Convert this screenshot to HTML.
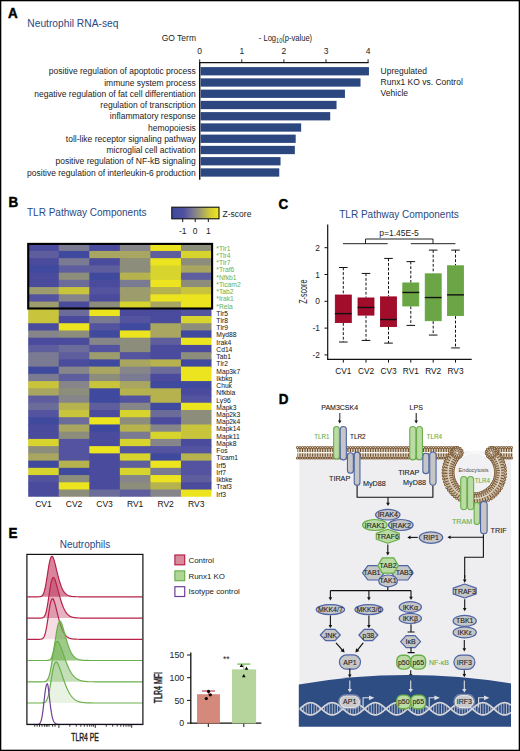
<!DOCTYPE html>
<html><head><meta charset="utf-8"><title>Figure</title><style>html,body{margin:0;padding:0;background:#fff;}svg{display:block;font-family:"Liberation Sans",sans-serif;}</style></head><body>
<svg width="520" height="751" viewBox="0 0 520 751">
<rect width="520" height="751" fill="#fff"/>
<rect x="0.65" y="0.65" width="518.7" height="749.7" fill="none" stroke="#000" stroke-width="1.3"/>
<text x="0" y="0" font-size="14.6" fill="#000" font-weight="bold" stroke="#000" stroke-width="0.45" transform="translate(8.0 18.2) scale(0.92 1)">A</text>
<text x="0" y="0" font-size="14.6" fill="#000" font-weight="bold" stroke="#000" stroke-width="0.45" transform="translate(8.4 207.3) scale(0.92 1)">B</text>
<text x="0" y="0" font-size="14.6" fill="#000" font-weight="bold" stroke="#000" stroke-width="0.45" transform="translate(278.6 208.6) scale(0.92 1)">C</text>
<text x="0" y="0" font-size="14.6" fill="#000" font-weight="bold" stroke="#000" stroke-width="0.45" transform="translate(278.8 404.3) scale(0.92 1)">D</text>
<text x="0" y="0" font-size="14.6" fill="#000" font-weight="bold" stroke="#000" stroke-width="0.45" transform="translate(8.4 537.6) scale(0.92 1)">E</text>
<text x="27.3" y="27.1" font-size="10.25" fill="#2a4884" text-anchor="start" font-weight="normal" >Neutrophil RNA-seq</text>
<text x="196" y="40.6" font-size="8.5" fill="#222" text-anchor="end" font-weight="normal" >GO Term</text>
<text x="0" y="0" font-size="9.6" fill="#222" transform="translate(258.8 40.8) scale(0.79 1)">- Log<tspan font-size="7" dy="2.4">10</tspan><tspan dy="-2.4">(p-value)</tspan></text>
<text x="199.7" y="54.2" font-size="8.5" fill="#222" text-anchor="middle" font-weight="normal" >0</text>
<line x1="199.70" y1="59.3" x2="199.70" y2="62.6" stroke="#222" stroke-width="1"/>
<text x="241.8" y="54.2" font-size="8.5" fill="#222" text-anchor="middle" font-weight="normal" >1</text>
<line x1="241.80" y1="59.3" x2="241.80" y2="62.6" stroke="#222" stroke-width="1"/>
<text x="283.9" y="54.2" font-size="8.5" fill="#222" text-anchor="middle" font-weight="normal" >2</text>
<line x1="283.90" y1="59.3" x2="283.90" y2="62.6" stroke="#222" stroke-width="1"/>
<text x="326.0" y="54.2" font-size="8.5" fill="#222" text-anchor="middle" font-weight="normal" >3</text>
<line x1="326.00" y1="59.3" x2="326.00" y2="62.6" stroke="#222" stroke-width="1"/>
<text x="368.1" y="54.2" font-size="8.5" fill="#222" text-anchor="middle" font-weight="normal" >4</text>
<line x1="368.10" y1="59.3" x2="368.10" y2="62.6" stroke="#222" stroke-width="1"/>
<line x1="199.2" y1="62.6" x2="368.6" y2="62.6" stroke="#111" stroke-width="1.2"/>
<line x1="199.7" y1="62" x2="199.7" y2="179.7" stroke="#111" stroke-width="1.4"/>
<rect x="200.6" y="67.10" width="168.34" height="8.3" fill="#2c4780"/>
<text x="195.8" y="74.4" font-size="8.5" fill="#222" text-anchor="end" font-weight="normal" >positive regulation of apoptotic process</text>
<rect x="200.6" y="78.35" width="159.92" height="8.3" fill="#2c4780"/>
<text x="195.8" y="85.65" font-size="8.5" fill="#222" text-anchor="end" font-weight="normal" >immune system process</text>
<rect x="200.6" y="89.60" width="144.34" height="8.3" fill="#2c4780"/>
<text x="195.8" y="96.9" font-size="8.5" fill="#222" text-anchor="end" font-weight="normal" >negative regulation of fat cell differentiation</text>
<rect x="200.6" y="100.85" width="135.93" height="8.3" fill="#2c4780"/>
<text x="195.8" y="108.15" font-size="8.5" fill="#222" text-anchor="end" font-weight="normal" >regulation of transcription</text>
<rect x="200.6" y="112.10" width="129.61" height="8.3" fill="#2c4780"/>
<text x="195.8" y="119.4" font-size="8.5" fill="#222" text-anchor="end" font-weight="normal" >inflammatory response</text>
<rect x="200.6" y="123.35" width="100.56" height="8.3" fill="#2c4780"/>
<text x="195.8" y="130.65" font-size="8.5" fill="#222" text-anchor="end" font-weight="normal" >hemopoiesis</text>
<rect x="200.6" y="134.60" width="95.09" height="8.3" fill="#2c4780"/>
<text x="195.8" y="141.9" font-size="8.5" fill="#222" text-anchor="end" font-weight="normal" >toll-like receptor signaling pathway</text>
<rect x="200.6" y="145.85" width="94.25" height="8.3" fill="#2c4780"/>
<text x="195.8" y="153.15" font-size="8.5" fill="#222" text-anchor="end" font-weight="normal" >microglial cell activation</text>
<rect x="200.6" y="157.10" width="79.93" height="8.3" fill="#2c4780"/>
<text x="195.8" y="164.4" font-size="8.5" fill="#222" text-anchor="end" font-weight="normal" >positive regulation of NF-kB signaling</text>
<rect x="200.6" y="168.35" width="78.67" height="8.3" fill="#2c4780"/>
<text x="195.8" y="175.65" font-size="8.5" fill="#222" text-anchor="end" font-weight="normal" >positive regulation of interleukin-6 production</text>
<text x="380.6" y="74.1" font-size="8.5" fill="#222" text-anchor="start" font-weight="normal" >Upregulated</text>
<text x="380.6" y="85.0" font-size="8.5" fill="#222" text-anchor="start" font-weight="normal" >Runx1 KO vs. Control</text>
<text x="380.6" y="95.9" font-size="8.5" fill="#222" text-anchor="start" font-weight="normal" >Vehicle</text>
<text x="27.0" y="215.5" font-size="10" fill="#2a4884" text-anchor="start" font-weight="normal" >TLR Pathway Components</text>
<defs><linearGradient id="cb" x1="0" x2="1" y1="0" y2="0"><stop offset="0" stop-color="#3c4a9e"/><stop offset="0.25" stop-color="#4f509f"/><stop offset="0.45" stop-color="#7a7a94"/><stop offset="0.55" stop-color="#8f8f7c"/><stop offset="0.8" stop-color="#cfc93c"/><stop offset="1" stop-color="#f4e81a"/></linearGradient></defs>
<rect x="171.8" y="207.2" width="47.2" height="11.6" fill="url(#cb)" stroke="#111" stroke-width="1.1"/>
<line x1="182.7" y1="219" x2="182.7" y2="222" stroke="#111" stroke-width="1"/>
<text x="182.7" y="233.6" font-size="8.5" fill="#222" text-anchor="middle" font-weight="normal" >-1</text>
<line x1="195.2" y1="219" x2="195.2" y2="222" stroke="#111" stroke-width="1"/>
<text x="195.2" y="233.6" font-size="8.5" fill="#222" text-anchor="middle" font-weight="normal" >0</text>
<line x1="208.3" y1="219" x2="208.3" y2="222" stroke="#111" stroke-width="1"/>
<text x="208.3" y="233.6" font-size="8.5" fill="#222" text-anchor="middle" font-weight="normal" >1</text>
<text x="222.6" y="216.6" font-size="8.5" fill="#222" text-anchor="start" font-weight="normal" >Z-score</text>
<rect x="28.20" y="243.70" width="31.55" height="8.23" fill="#4a4b9d"/>
<rect x="58.75" y="243.70" width="31.55" height="8.23" fill="#7a7a92"/>
<rect x="89.30" y="243.70" width="31.55" height="8.23" fill="#4a4b9d"/>
<rect x="119.85" y="243.70" width="31.55" height="8.23" fill="#85858a"/>
<rect x="150.40" y="243.70" width="31.55" height="8.23" fill="#ece41e"/>
<rect x="180.95" y="243.70" width="30.55" height="8.23" fill="#8d8d7b"/>
<text x="216.3" y="250.70" font-size="7" fill="#6ab04c" transform="translate(216.3 0) scale(0.96 1) translate(-216.3 0)">*Tlr1</text>
<rect x="28.20" y="250.93" width="31.55" height="8.23" fill="#5e5e9f"/>
<rect x="58.75" y="250.93" width="31.55" height="8.23" fill="#3f4a9e"/>
<rect x="89.30" y="250.93" width="31.55" height="8.23" fill="#a8a660"/>
<rect x="119.85" y="250.93" width="31.55" height="8.23" fill="#a8a660"/>
<rect x="150.40" y="250.93" width="31.55" height="8.23" fill="#5e5e9f"/>
<rect x="180.95" y="250.93" width="30.55" height="8.23" fill="#d8d42e"/>
<text x="216.3" y="257.93" font-size="7" fill="#6ab04c" transform="translate(216.3 0) scale(0.96 1) translate(-216.3 0)">*Tlr4</text>
<rect x="28.20" y="258.16" width="31.55" height="8.23" fill="#4a4b9d"/>
<rect x="58.75" y="258.16" width="31.55" height="8.23" fill="#7a7a92"/>
<rect x="89.30" y="258.16" width="31.55" height="8.23" fill="#4a4b9d"/>
<rect x="119.85" y="258.16" width="31.55" height="8.23" fill="#8d8d7b"/>
<rect x="150.40" y="258.16" width="31.55" height="8.23" fill="#ece41e"/>
<rect x="180.95" y="258.16" width="30.55" height="8.23" fill="#8d8d7b"/>
<text x="216.3" y="265.16" font-size="7" fill="#6ab04c" transform="translate(216.3 0) scale(0.96 1) translate(-216.3 0)">*Tlr7</text>
<rect x="28.20" y="265.39" width="31.55" height="8.23" fill="#3f4a9e"/>
<rect x="58.75" y="265.39" width="31.55" height="8.23" fill="#5e5e9f"/>
<rect x="89.30" y="265.39" width="31.55" height="8.23" fill="#5e5e9f"/>
<rect x="119.85" y="265.39" width="31.55" height="8.23" fill="#8d8d7b"/>
<rect x="150.40" y="265.39" width="31.55" height="8.23" fill="#d8d42e"/>
<rect x="180.95" y="265.39" width="30.55" height="8.23" fill="#a8a660"/>
<text x="216.3" y="272.39" font-size="7" fill="#6ab04c" transform="translate(216.3 0) scale(0.96 1) translate(-216.3 0)">*Traf6</text>
<rect x="28.20" y="272.62" width="31.55" height="8.23" fill="#4a4b9d"/>
<rect x="58.75" y="272.62" width="31.55" height="8.23" fill="#8d8d7b"/>
<rect x="89.30" y="272.62" width="31.55" height="8.23" fill="#3f4a9e"/>
<rect x="119.85" y="272.62" width="31.55" height="8.23" fill="#b6b24e"/>
<rect x="150.40" y="272.62" width="31.55" height="8.23" fill="#d8d42e"/>
<rect x="180.95" y="272.62" width="30.55" height="8.23" fill="#5e5e9f"/>
<text x="216.3" y="279.62" font-size="7" fill="#6ab04c" transform="translate(216.3 0) scale(0.96 1) translate(-216.3 0)">*Nfkb1</text>
<rect x="28.20" y="279.85" width="31.55" height="8.23" fill="#4a4b9d"/>
<rect x="58.75" y="279.85" width="31.55" height="8.23" fill="#6c6c9b"/>
<rect x="89.30" y="279.85" width="31.55" height="8.23" fill="#4a4b9d"/>
<rect x="119.85" y="279.85" width="31.55" height="8.23" fill="#7a7a92"/>
<rect x="150.40" y="279.85" width="31.55" height="8.23" fill="#ece41e"/>
<rect x="180.95" y="279.85" width="30.55" height="8.23" fill="#8d8d7b"/>
<text x="216.3" y="286.85" font-size="7" fill="#6ab04c" transform="translate(216.3 0) scale(0.96 1) translate(-216.3 0)">*Ticam2</text>
<rect x="28.20" y="287.08" width="31.55" height="8.23" fill="#9c9c6c"/>
<rect x="58.75" y="287.08" width="31.55" height="8.23" fill="#c8c43c"/>
<rect x="89.30" y="287.08" width="31.55" height="8.23" fill="#5353a0"/>
<rect x="119.85" y="287.08" width="31.55" height="8.23" fill="#9c9c6c"/>
<rect x="150.40" y="287.08" width="31.55" height="8.23" fill="#b6b24e"/>
<rect x="180.95" y="287.08" width="30.55" height="8.23" fill="#c8c43c"/>
<text x="216.3" y="294.08" font-size="7" fill="#6ab04c" transform="translate(216.3 0) scale(0.96 1) translate(-216.3 0)">*Tab2</text>
<rect x="28.20" y="294.31" width="31.55" height="8.23" fill="#5353a0"/>
<rect x="58.75" y="294.31" width="31.55" height="8.23" fill="#85858a"/>
<rect x="89.30" y="294.31" width="31.55" height="8.23" fill="#4a4b9d"/>
<rect x="119.85" y="294.31" width="31.55" height="8.23" fill="#9c9c6c"/>
<rect x="150.40" y="294.31" width="31.55" height="8.23" fill="#ece41e"/>
<rect x="180.95" y="294.31" width="30.55" height="8.23" fill="#ece41e"/>
<text x="216.3" y="301.31" font-size="7" fill="#6ab04c" transform="translate(216.3 0) scale(0.96 1) translate(-216.3 0)">*Irak1</text>
<rect x="28.20" y="301.54" width="31.55" height="8.23" fill="#9c9c6c"/>
<rect x="58.75" y="301.54" width="31.55" height="8.23" fill="#4a4b9d"/>
<rect x="89.30" y="301.54" width="31.55" height="8.23" fill="#8d8d7b"/>
<rect x="119.85" y="301.54" width="31.55" height="8.23" fill="#d8d42e"/>
<rect x="150.40" y="301.54" width="31.55" height="8.23" fill="#a8a660"/>
<rect x="180.95" y="301.54" width="30.55" height="8.23" fill="#ece41e"/>
<text x="216.3" y="308.54" font-size="7" fill="#6ab04c" transform="translate(216.3 0) scale(0.96 1) translate(-216.3 0)">*Rela</text>
<rect x="28.20" y="308.77" width="31.55" height="8.23" fill="#c8c43c"/>
<rect x="58.75" y="308.77" width="31.55" height="8.23" fill="#6c6c9b"/>
<rect x="89.30" y="308.77" width="31.55" height="8.23" fill="#ece41e"/>
<rect x="119.85" y="308.77" width="31.55" height="8.23" fill="#4a4b9d"/>
<rect x="150.40" y="308.77" width="31.55" height="8.23" fill="#4a4b9d"/>
<rect x="180.95" y="308.77" width="30.55" height="8.23" fill="#5353a0"/>
<text x="216.3" y="315.77" font-size="7" fill="#111" transform="translate(216.3 0) scale(0.96 1) translate(-216.3 0)">Tlr5</text>
<rect x="28.20" y="316.00" width="31.55" height="8.23" fill="#c8c43c"/>
<rect x="58.75" y="316.00" width="31.55" height="8.23" fill="#4a4b9d"/>
<rect x="89.30" y="316.00" width="31.55" height="8.23" fill="#7a7a92"/>
<rect x="119.85" y="316.00" width="31.55" height="8.23" fill="#5353a0"/>
<rect x="150.40" y="316.00" width="31.55" height="8.23" fill="#4a4b9d"/>
<rect x="180.95" y="316.00" width="30.55" height="8.23" fill="#d8d42e"/>
<text x="216.3" y="323.00" font-size="7" fill="#111" transform="translate(216.3 0) scale(0.96 1) translate(-216.3 0)">Tlr8</text>
<rect x="28.20" y="323.23" width="31.55" height="8.23" fill="#4a4b9d"/>
<rect x="58.75" y="323.23" width="31.55" height="8.23" fill="#ece41e"/>
<rect x="89.30" y="323.23" width="31.55" height="8.23" fill="#5353a0"/>
<rect x="119.85" y="323.23" width="31.55" height="8.23" fill="#3f4a9e"/>
<rect x="150.40" y="323.23" width="31.55" height="8.23" fill="#a8a660"/>
<rect x="180.95" y="323.23" width="30.55" height="8.23" fill="#8d8d7b"/>
<text x="216.3" y="330.23" font-size="7" fill="#111" transform="translate(216.3 0) scale(0.96 1) translate(-216.3 0)">Tlr9</text>
<rect x="28.20" y="330.46" width="31.55" height="8.23" fill="#85858a"/>
<rect x="58.75" y="330.46" width="31.55" height="8.23" fill="#8d8d7b"/>
<rect x="89.30" y="330.46" width="31.55" height="8.23" fill="#3f4a9e"/>
<rect x="119.85" y="330.46" width="31.55" height="8.23" fill="#ece41e"/>
<rect x="150.40" y="330.46" width="31.55" height="8.23" fill="#a8a660"/>
<rect x="180.95" y="330.46" width="30.55" height="8.23" fill="#3f4a9e"/>
<text x="216.3" y="337.46" font-size="7" fill="#111" transform="translate(216.3 0) scale(0.96 1) translate(-216.3 0)">Myd88</text>
<rect x="28.20" y="337.69" width="31.55" height="8.23" fill="#4a4b9d"/>
<rect x="58.75" y="337.69" width="31.55" height="8.23" fill="#4a4b9d"/>
<rect x="89.30" y="337.69" width="31.55" height="8.23" fill="#85858a"/>
<rect x="119.85" y="337.69" width="31.55" height="8.23" fill="#8d8d7b"/>
<rect x="150.40" y="337.69" width="31.55" height="8.23" fill="#5e5e9f"/>
<rect x="180.95" y="337.69" width="30.55" height="8.23" fill="#ece41e"/>
<text x="216.3" y="344.69" font-size="7" fill="#111" transform="translate(216.3 0) scale(0.96 1) translate(-216.3 0)">Irak4</text>
<rect x="28.20" y="344.92" width="31.55" height="8.23" fill="#5e5e9f"/>
<rect x="58.75" y="344.92" width="31.55" height="8.23" fill="#6c6c9b"/>
<rect x="89.30" y="344.92" width="31.55" height="8.23" fill="#5353a0"/>
<rect x="119.85" y="344.92" width="31.55" height="8.23" fill="#8d8d7b"/>
<rect x="150.40" y="344.92" width="31.55" height="8.23" fill="#4a4b9d"/>
<rect x="180.95" y="344.92" width="30.55" height="8.23" fill="#4a4b9d"/>
<text x="216.3" y="351.92" font-size="7" fill="#111" transform="translate(216.3 0) scale(0.96 1) translate(-216.3 0)">Cd14</text>
<rect x="28.20" y="352.15" width="31.55" height="8.23" fill="#7a7a92"/>
<rect x="58.75" y="352.15" width="31.55" height="8.23" fill="#5e5e9f"/>
<rect x="89.30" y="352.15" width="31.55" height="8.23" fill="#9c9c6c"/>
<rect x="119.85" y="352.15" width="31.55" height="8.23" fill="#5353a0"/>
<rect x="150.40" y="352.15" width="31.55" height="8.23" fill="#4a4b9d"/>
<rect x="180.95" y="352.15" width="30.55" height="8.23" fill="#8d8d7b"/>
<text x="216.3" y="359.15" font-size="7" fill="#111" transform="translate(216.3 0) scale(0.96 1) translate(-216.3 0)">Tab1</text>
<rect x="28.20" y="359.38" width="31.55" height="8.23" fill="#7a7a92"/>
<rect x="58.75" y="359.38" width="31.55" height="8.23" fill="#4a4b9d"/>
<rect x="89.30" y="359.38" width="31.55" height="8.23" fill="#3f4a9e"/>
<rect x="119.85" y="359.38" width="31.55" height="8.23" fill="#a8a660"/>
<rect x="150.40" y="359.38" width="31.55" height="8.23" fill="#b6b24e"/>
<rect x="180.95" y="359.38" width="30.55" height="8.23" fill="#3f4a9e"/>
<text x="216.3" y="366.38" font-size="7" fill="#111" transform="translate(216.3 0) scale(0.96 1) translate(-216.3 0)">Tlr2</text>
<rect x="28.20" y="366.61" width="31.55" height="8.23" fill="#3f4a9e"/>
<rect x="58.75" y="366.61" width="31.55" height="8.23" fill="#85858a"/>
<rect x="89.30" y="366.61" width="31.55" height="8.23" fill="#a8a660"/>
<rect x="119.85" y="366.61" width="31.55" height="8.23" fill="#85858a"/>
<rect x="150.40" y="366.61" width="31.55" height="8.23" fill="#6c6c9b"/>
<rect x="180.95" y="366.61" width="30.55" height="8.23" fill="#ece41e"/>
<text x="216.3" y="373.61" font-size="7" fill="#111" transform="translate(216.3 0) scale(0.96 1) translate(-216.3 0)">Map3k7</text>
<rect x="28.20" y="373.84" width="31.55" height="8.23" fill="#7a7a92"/>
<rect x="58.75" y="373.84" width="31.55" height="8.23" fill="#5e5e9f"/>
<rect x="89.30" y="373.84" width="31.55" height="8.23" fill="#8d8d7b"/>
<rect x="119.85" y="373.84" width="31.55" height="8.23" fill="#7a7a92"/>
<rect x="150.40" y="373.84" width="31.55" height="8.23" fill="#4a4b9d"/>
<rect x="180.95" y="373.84" width="30.55" height="8.23" fill="#ece41e"/>
<text x="216.3" y="380.84" font-size="7" fill="#111" transform="translate(216.3 0) scale(0.96 1) translate(-216.3 0)">Ikbkg</text>
<rect x="28.20" y="381.07" width="31.55" height="8.23" fill="#c8c43c"/>
<rect x="58.75" y="381.07" width="31.55" height="8.23" fill="#85858a"/>
<rect x="89.30" y="381.07" width="31.55" height="8.23" fill="#c8c43c"/>
<rect x="119.85" y="381.07" width="31.55" height="8.23" fill="#a8a660"/>
<rect x="150.40" y="381.07" width="31.55" height="8.23" fill="#3f4a9e"/>
<rect x="180.95" y="381.07" width="30.55" height="8.23" fill="#3f4a9e"/>
<text x="216.3" y="388.07" font-size="7" fill="#111" transform="translate(216.3 0) scale(0.96 1) translate(-216.3 0)">Chuk</text>
<rect x="28.20" y="388.30" width="31.55" height="8.23" fill="#a8a660"/>
<rect x="58.75" y="388.30" width="31.55" height="8.23" fill="#8d8d7b"/>
<rect x="89.30" y="388.30" width="31.55" height="8.23" fill="#3f4a9e"/>
<rect x="119.85" y="388.30" width="31.55" height="8.23" fill="#b6b24e"/>
<rect x="150.40" y="388.30" width="31.55" height="8.23" fill="#b6b24e"/>
<rect x="180.95" y="388.30" width="30.55" height="8.23" fill="#4a4b9d"/>
<text x="216.3" y="395.30" font-size="7" fill="#111" transform="translate(216.3 0) scale(0.96 1) translate(-216.3 0)">Nfkbia</text>
<rect x="28.20" y="395.53" width="31.55" height="8.23" fill="#5e5e9f"/>
<rect x="58.75" y="395.53" width="31.55" height="8.23" fill="#85858a"/>
<rect x="89.30" y="395.53" width="31.55" height="8.23" fill="#3f4a9e"/>
<rect x="119.85" y="395.53" width="31.55" height="8.23" fill="#5353a0"/>
<rect x="150.40" y="395.53" width="31.55" height="8.23" fill="#b6b24e"/>
<rect x="180.95" y="395.53" width="30.55" height="8.23" fill="#5353a0"/>
<text x="216.3" y="402.53" font-size="7" fill="#111" transform="translate(216.3 0) scale(0.96 1) translate(-216.3 0)">Ly96</text>
<rect x="28.20" y="402.76" width="31.55" height="8.23" fill="#6c6c9b"/>
<rect x="58.75" y="402.76" width="31.55" height="8.23" fill="#b6b24e"/>
<rect x="89.30" y="402.76" width="31.55" height="8.23" fill="#5e5e9f"/>
<rect x="119.85" y="402.76" width="31.55" height="8.23" fill="#85858a"/>
<rect x="150.40" y="402.76" width="31.55" height="8.23" fill="#3f4a9e"/>
<rect x="180.95" y="402.76" width="30.55" height="8.23" fill="#ece41e"/>
<text x="216.3" y="409.76" font-size="7" fill="#111" transform="translate(216.3 0) scale(0.96 1) translate(-216.3 0)">Mapk3</text>
<rect x="28.20" y="409.99" width="31.55" height="8.23" fill="#5353a0"/>
<rect x="58.75" y="409.99" width="31.55" height="8.23" fill="#c8c43c"/>
<rect x="89.30" y="409.99" width="31.55" height="8.23" fill="#4a4b9d"/>
<rect x="119.85" y="409.99" width="31.55" height="8.23" fill="#d8d42e"/>
<rect x="150.40" y="409.99" width="31.55" height="8.23" fill="#6c6c9b"/>
<rect x="180.95" y="409.99" width="30.55" height="8.23" fill="#8d8d7b"/>
<text x="216.3" y="416.99" font-size="7" fill="#111" transform="translate(216.3 0) scale(0.96 1) translate(-216.3 0)">Map2k3</text>
<rect x="28.20" y="417.22" width="31.55" height="8.23" fill="#3f4a9e"/>
<rect x="58.75" y="417.22" width="31.55" height="8.23" fill="#6c6c9b"/>
<rect x="89.30" y="417.22" width="31.55" height="8.23" fill="#ece41e"/>
<rect x="119.85" y="417.22" width="31.55" height="8.23" fill="#8d8d7b"/>
<rect x="150.40" y="417.22" width="31.55" height="8.23" fill="#4a4b9d"/>
<rect x="180.95" y="417.22" width="30.55" height="8.23" fill="#8d8d7b"/>
<text x="216.3" y="424.22" font-size="7" fill="#111" transform="translate(216.3 0) scale(0.96 1) translate(-216.3 0)">Map2k4</text>
<rect x="28.20" y="424.45" width="31.55" height="8.23" fill="#4a4b9d"/>
<rect x="58.75" y="424.45" width="31.55" height="8.23" fill="#a8a660"/>
<rect x="89.30" y="424.45" width="31.55" height="8.23" fill="#3f4a9e"/>
<rect x="119.85" y="424.45" width="31.55" height="8.23" fill="#b6b24e"/>
<rect x="150.40" y="424.45" width="31.55" height="8.23" fill="#85858a"/>
<rect x="180.95" y="424.45" width="30.55" height="8.23" fill="#c8c43c"/>
<text x="216.3" y="431.45" font-size="7" fill="#111" transform="translate(216.3 0) scale(0.96 1) translate(-216.3 0)">Mapk14</text>
<rect x="28.20" y="431.68" width="31.55" height="8.23" fill="#4a4b9d"/>
<rect x="58.75" y="431.68" width="31.55" height="8.23" fill="#8d8d7b"/>
<rect x="89.30" y="431.68" width="31.55" height="8.23" fill="#4a4b9d"/>
<rect x="119.85" y="431.68" width="31.55" height="8.23" fill="#7a7a92"/>
<rect x="150.40" y="431.68" width="31.55" height="8.23" fill="#d8d42e"/>
<rect x="180.95" y="431.68" width="30.55" height="8.23" fill="#c8c43c"/>
<text x="216.3" y="438.68" font-size="7" fill="#111" transform="translate(216.3 0) scale(0.96 1) translate(-216.3 0)">Mapk11</text>
<rect x="28.20" y="438.91" width="31.55" height="8.23" fill="#d8d42e"/>
<rect x="58.75" y="438.91" width="31.55" height="8.23" fill="#5353a0"/>
<rect x="89.30" y="438.91" width="31.55" height="8.23" fill="#4a4b9d"/>
<rect x="119.85" y="438.91" width="31.55" height="8.23" fill="#d8d42e"/>
<rect x="150.40" y="438.91" width="31.55" height="8.23" fill="#85858a"/>
<rect x="180.95" y="438.91" width="30.55" height="8.23" fill="#4a4b9d"/>
<text x="216.3" y="445.91" font-size="7" fill="#111" transform="translate(216.3 0) scale(0.96 1) translate(-216.3 0)">Mapk8</text>
<rect x="28.20" y="446.14" width="31.55" height="8.23" fill="#8d8d7b"/>
<rect x="58.75" y="446.14" width="31.55" height="8.23" fill="#5353a0"/>
<rect x="89.30" y="446.14" width="31.55" height="8.23" fill="#ece41e"/>
<rect x="119.85" y="446.14" width="31.55" height="8.23" fill="#5353a0"/>
<rect x="150.40" y="446.14" width="31.55" height="8.23" fill="#5353a0"/>
<rect x="180.95" y="446.14" width="30.55" height="8.23" fill="#5353a0"/>
<text x="216.3" y="453.14" font-size="7" fill="#111" transform="translate(216.3 0) scale(0.96 1) translate(-216.3 0)">Fos</text>
<rect x="28.20" y="453.37" width="31.55" height="8.23" fill="#a8a660"/>
<rect x="58.75" y="453.37" width="31.55" height="8.23" fill="#5353a0"/>
<rect x="89.30" y="453.37" width="31.55" height="8.23" fill="#4a4b9d"/>
<rect x="119.85" y="453.37" width="31.55" height="8.23" fill="#d8d42e"/>
<rect x="150.40" y="453.37" width="31.55" height="8.23" fill="#3f4a9e"/>
<rect x="180.95" y="453.37" width="30.55" height="8.23" fill="#b6b24e"/>
<text x="216.3" y="460.37" font-size="7" fill="#111" transform="translate(216.3 0) scale(0.96 1) translate(-216.3 0)">Ticam1</text>
<rect x="28.20" y="460.60" width="31.55" height="8.23" fill="#3f4a9e"/>
<rect x="58.75" y="460.60" width="31.55" height="8.23" fill="#b6b24e"/>
<rect x="89.30" y="460.60" width="31.55" height="8.23" fill="#4a4b9d"/>
<rect x="119.85" y="460.60" width="31.55" height="8.23" fill="#5e5e9f"/>
<rect x="150.40" y="460.60" width="31.55" height="8.23" fill="#ece41e"/>
<rect x="180.95" y="460.60" width="30.55" height="8.23" fill="#5353a0"/>
<text x="216.3" y="467.60" font-size="7" fill="#111" transform="translate(216.3 0) scale(0.96 1) translate(-216.3 0)">Irf5</text>
<rect x="28.20" y="467.83" width="31.55" height="8.23" fill="#d8d42e"/>
<rect x="58.75" y="467.83" width="31.55" height="8.23" fill="#3f4a9e"/>
<rect x="89.30" y="467.83" width="31.55" height="8.23" fill="#4a4b9d"/>
<rect x="119.85" y="467.83" width="31.55" height="8.23" fill="#d8d42e"/>
<rect x="150.40" y="467.83" width="31.55" height="8.23" fill="#7a7a92"/>
<rect x="180.95" y="467.83" width="30.55" height="8.23" fill="#5353a0"/>
<text x="216.3" y="474.83" font-size="7" fill="#111" transform="translate(216.3 0) scale(0.96 1) translate(-216.3 0)">Irf7</text>
<rect x="28.20" y="475.06" width="31.55" height="8.23" fill="#5353a0"/>
<rect x="58.75" y="475.06" width="31.55" height="8.23" fill="#8d8d7b"/>
<rect x="89.30" y="475.06" width="31.55" height="8.23" fill="#4a4b9d"/>
<rect x="119.85" y="475.06" width="31.55" height="8.23" fill="#85858a"/>
<rect x="150.40" y="475.06" width="31.55" height="8.23" fill="#ece41e"/>
<rect x="180.95" y="475.06" width="30.55" height="8.23" fill="#5e5e9f"/>
<text x="216.3" y="482.06" font-size="7" fill="#111" transform="translate(216.3 0) scale(0.96 1) translate(-216.3 0)">Ikbke</text>
<rect x="28.20" y="482.29" width="31.55" height="8.23" fill="#4a4b9d"/>
<rect x="58.75" y="482.29" width="31.55" height="8.23" fill="#ece41e"/>
<rect x="89.30" y="482.29" width="31.55" height="8.23" fill="#4a4b9d"/>
<rect x="119.85" y="482.29" width="31.55" height="8.23" fill="#8d8d7b"/>
<rect x="150.40" y="482.29" width="31.55" height="8.23" fill="#b6b24e"/>
<rect x="180.95" y="482.29" width="30.55" height="8.23" fill="#4a4b9d"/>
<text x="216.3" y="489.29" font-size="7" fill="#111" transform="translate(216.3 0) scale(0.96 1) translate(-216.3 0)">Traf3</text>
<rect x="28.20" y="489.52" width="31.55" height="7.23" fill="#4a4b9d"/>
<rect x="58.75" y="489.52" width="31.55" height="7.23" fill="#8d8d7b"/>
<rect x="89.30" y="489.52" width="31.55" height="7.23" fill="#6c6c9b"/>
<rect x="119.85" y="489.52" width="31.55" height="7.23" fill="#5e5e9f"/>
<rect x="150.40" y="489.52" width="31.55" height="7.23" fill="#85858a"/>
<rect x="180.95" y="489.52" width="30.55" height="7.23" fill="#ece41e"/>
<text x="216.3" y="496.52" font-size="7" fill="#111" transform="translate(216.3 0) scale(0.96 1) translate(-216.3 0)">Irf3</text>
<rect x="28.2" y="243.9" width="183.9" height="64.6" fill="none" stroke="#000" stroke-width="2.1"/>
<text x="43.48" y="507" font-size="8.5" fill="#111" text-anchor="middle" font-weight="normal" >CV1</text>
<text x="74.03" y="507" font-size="8.5" fill="#111" text-anchor="middle" font-weight="normal" >CV2</text>
<text x="104.58" y="507" font-size="8.5" fill="#111" text-anchor="middle" font-weight="normal" >CV3</text>
<text x="135.12" y="507" font-size="8.5" fill="#111" text-anchor="middle" font-weight="normal" >RV1</text>
<text x="165.67" y="507" font-size="8.5" fill="#111" text-anchor="middle" font-weight="normal" >RV2</text>
<text x="196.22" y="507" font-size="8.5" fill="#111" text-anchor="middle" font-weight="normal" >RV3</text>
<text x="399" y="217.7" font-size="10" fill="#2a4884" text-anchor="middle" font-weight="normal" >TLR Pathway Components</text>
<line x1="327.7" y1="224.6" x2="327.7" y2="359.6" stroke="#111" stroke-width="1.2"/>
<line x1="327.1" y1="359.4" x2="471.7" y2="359.4" stroke="#111" stroke-width="1.2"/>
<line x1="324.5" y1="247.70" x2="327.7" y2="247.70" stroke="#111" stroke-width="1"/>
<text x="319.9" y="250.7" font-size="8.4" fill="#222" text-anchor="end" font-weight="normal" >2</text>
<line x1="324.5" y1="274.50" x2="327.7" y2="274.50" stroke="#111" stroke-width="1"/>
<text x="319.9" y="277.5" font-size="8.4" fill="#222" text-anchor="end" font-weight="normal" >1</text>
<line x1="324.5" y1="301.30" x2="327.7" y2="301.30" stroke="#111" stroke-width="1"/>
<text x="319.9" y="304.3" font-size="8.4" fill="#222" text-anchor="end" font-weight="normal" >0</text>
<line x1="324.5" y1="328.10" x2="327.7" y2="328.10" stroke="#111" stroke-width="1"/>
<text x="319.9" y="331.1" font-size="8.4" fill="#222" text-anchor="end" font-weight="normal" >-1</text>
<line x1="324.5" y1="354.90" x2="327.7" y2="354.90" stroke="#111" stroke-width="1"/>
<text x="319.9" y="357.9" font-size="8.4" fill="#222" text-anchor="end" font-weight="normal" >-2</text>
<text x="0" y="0" font-size="10.5" fill="#222" text-anchor="middle" textLength="24.2" lengthAdjust="spacingAndGlyphs" transform="translate(306.6 291.7) rotate(-90)">Z-score</text>
<line x1="343.3" y1="267.53" x2="343.3" y2="294.60" stroke="#111" stroke-width="1" stroke-dasharray="2.8 1.8"/>
<line x1="343.3" y1="323.01" x2="343.3" y2="342.04" stroke="#111" stroke-width="1" stroke-dasharray="2.8 1.8"/>
<line x1="339.0" y1="267.53" x2="347.6" y2="267.53" stroke="#111" stroke-width="1"/>
<line x1="339.0" y1="342.04" x2="347.6" y2="342.04" stroke="#111" stroke-width="1"/>
<rect x="335.30" y="295.00" width="16.0" height="27.61" fill="#a20d2b" stroke="#98001f" stroke-width="0.8"/>
<line x1="334.90" y1="313.63" x2="351.70" y2="313.63" stroke="#111" stroke-width="1.4"/>
<line x1="343.3" y1="359.4" x2="343.3" y2="362.6" stroke="#111" stroke-width="1"/>
<line x1="366.0" y1="273.43" x2="366.0" y2="297.55" stroke="#111" stroke-width="1" stroke-dasharray="2.8 1.8"/>
<line x1="366.0" y1="315.50" x2="366.0" y2="340.43" stroke="#111" stroke-width="1" stroke-dasharray="2.8 1.8"/>
<line x1="361.7" y1="273.43" x2="370.3" y2="273.43" stroke="#111" stroke-width="1"/>
<line x1="361.7" y1="340.43" x2="370.3" y2="340.43" stroke="#111" stroke-width="1"/>
<rect x="358.00" y="297.95" width="16.0" height="17.16" fill="#a20d2b" stroke="#98001f" stroke-width="0.8"/>
<line x1="357.60" y1="307.46" x2="374.40" y2="307.46" stroke="#111" stroke-width="1.4"/>
<line x1="366.0" y1="359.4" x2="366.0" y2="362.6" stroke="#111" stroke-width="1"/>
<line x1="388.5" y1="258.42" x2="388.5" y2="296.48" stroke="#111" stroke-width="1" stroke-dasharray="2.8 1.8"/>
<line x1="388.5" y1="327.03" x2="388.5" y2="343.11" stroke="#111" stroke-width="1" stroke-dasharray="2.8 1.8"/>
<line x1="384.2" y1="258.42" x2="392.8" y2="258.42" stroke="#111" stroke-width="1"/>
<line x1="384.2" y1="343.11" x2="392.8" y2="343.11" stroke="#111" stroke-width="1"/>
<rect x="380.50" y="296.88" width="16.0" height="29.75" fill="#a20d2b" stroke="#98001f" stroke-width="0.8"/>
<line x1="380.10" y1="319.52" x2="396.90" y2="319.52" stroke="#111" stroke-width="1.4"/>
<line x1="388.5" y1="359.4" x2="388.5" y2="362.6" stroke="#111" stroke-width="1"/>
<line x1="410.8" y1="261.64" x2="410.8" y2="282.54" stroke="#111" stroke-width="1" stroke-dasharray="2.8 1.8"/>
<line x1="410.8" y1="306.39" x2="410.8" y2="325.42" stroke="#111" stroke-width="1" stroke-dasharray="2.8 1.8"/>
<line x1="406.5" y1="261.64" x2="415.1" y2="261.64" stroke="#111" stroke-width="1"/>
<line x1="406.5" y1="325.42" x2="415.1" y2="325.42" stroke="#111" stroke-width="1"/>
<rect x="402.80" y="282.94" width="16.0" height="23.05" fill="#6ba546" stroke="#5ea638" stroke-width="0.8"/>
<line x1="402.40" y1="292.46" x2="419.20" y2="292.46" stroke="#111" stroke-width="1.4"/>
<line x1="410.8" y1="359.4" x2="410.8" y2="362.6" stroke="#111" stroke-width="1"/>
<line x1="433.2" y1="250.11" x2="433.2" y2="273.43" stroke="#111" stroke-width="1" stroke-dasharray="2.8 1.8"/>
<line x1="433.2" y1="321.13" x2="433.2" y2="335.07" stroke="#111" stroke-width="1" stroke-dasharray="2.8 1.8"/>
<line x1="428.9" y1="250.11" x2="437.5" y2="250.11" stroke="#111" stroke-width="1"/>
<line x1="428.9" y1="335.07" x2="437.5" y2="335.07" stroke="#111" stroke-width="1"/>
<rect x="425.20" y="273.83" width="16.0" height="46.90" fill="#6ba546" stroke="#5ea638" stroke-width="0.8"/>
<line x1="424.80" y1="297.55" x2="441.60" y2="297.55" stroke="#111" stroke-width="1.4"/>
<line x1="433.2" y1="359.4" x2="433.2" y2="362.6" stroke="#111" stroke-width="1"/>
<line x1="455.5" y1="250.11" x2="455.5" y2="265.39" stroke="#111" stroke-width="1" stroke-dasharray="2.8 1.8"/>
<line x1="455.5" y1="316.04" x2="455.5" y2="347.93" stroke="#111" stroke-width="1" stroke-dasharray="2.8 1.8"/>
<line x1="451.2" y1="250.11" x2="459.8" y2="250.11" stroke="#111" stroke-width="1"/>
<line x1="451.2" y1="347.93" x2="459.8" y2="347.93" stroke="#111" stroke-width="1"/>
<rect x="447.50" y="265.79" width="16.0" height="49.85" fill="#6ba546" stroke="#5ea638" stroke-width="0.8"/>
<line x1="447.10" y1="294.87" x2="463.90" y2="294.87" stroke="#111" stroke-width="1.4"/>
<line x1="455.5" y1="359.4" x2="455.5" y2="362.6" stroke="#111" stroke-width="1"/>
<text x="343.3" y="374.4" font-size="8.3" fill="#111" text-anchor="middle" font-weight="normal" >CV1</text>
<text x="366.0" y="374.4" font-size="8.3" fill="#111" text-anchor="middle" font-weight="normal" >CV2</text>
<text x="388.5" y="374.4" font-size="8.3" fill="#111" text-anchor="middle" font-weight="normal" >CV3</text>
<text x="410.8" y="374.4" font-size="8.3" fill="#111" text-anchor="middle" font-weight="normal" >RV1</text>
<text x="433.2" y="374.4" font-size="8.3" fill="#111" text-anchor="middle" font-weight="normal" >RV2</text>
<text x="455.5" y="374.4" font-size="8.3" fill="#111" text-anchor="middle" font-weight="normal" >RV3</text>
<path d="M343 243.7 H387.7 M410.8 243.7 H455.4 M365.5 243.7 V239 H433 V243.7" fill="none" stroke="#222" stroke-width="1"/>
<text x="399" y="236.3" font-size="8.5" fill="#222" text-anchor="middle" font-weight="normal" >p=1.45E-5</text>
<rect x="299.3" y="451.5" width="211.7" height="237" fill="#eeeef1"/>
<rect x="297.5" y="448.5" width="159.8" height="8.4" fill="#d9cdbb"/>
<rect x="297.5" y="452.25" width="159.8" height="0.9" fill="#fff"/>
<line x1="297.5" y1="450.34999999999997" x2="457.3" y2="450.34999999999997" stroke="#6a4a28" stroke-width="3.1" stroke-dasharray="1.05 1.47" stroke-dashoffset="0.52"/>
<line x1="297.5" y1="455.05" x2="457.3" y2="455.05" stroke="#6a4a28" stroke-width="3.1" stroke-dasharray="1.05 1.47" stroke-dashoffset="0.52"/>
<line x1="297.5" y1="447.4" x2="457.3" y2="447.4" stroke="#7c5a36" stroke-width="3.0" stroke-dasharray="0 2.52" stroke-linecap="round"/>
<line x1="297.5" y1="447.4" x2="457.3" y2="447.4" stroke="#e9e1d6" stroke-width="1.1" stroke-dasharray="0 2.52" stroke-linecap="round"/>
<line x1="297.5" y1="458.0" x2="457.3" y2="458.0" stroke="#7c5a36" stroke-width="3.0" stroke-dasharray="0 2.52" stroke-linecap="round"/>
<line x1="297.5" y1="458.0" x2="457.3" y2="458.0" stroke="#e9e1d6" stroke-width="1.1" stroke-dasharray="0 2.52" stroke-linecap="round"/>
<rect x="491.3" y="448.5" width="21.69999999999999" height="8.4" fill="#d9cdbb"/>
<rect x="491.3" y="452.25" width="21.69999999999999" height="0.9" fill="#fff"/>
<line x1="491.3" y1="450.34999999999997" x2="513" y2="450.34999999999997" stroke="#6a4a28" stroke-width="3.1" stroke-dasharray="1.05 1.47" stroke-dashoffset="0.52"/>
<line x1="491.3" y1="455.05" x2="513" y2="455.05" stroke="#6a4a28" stroke-width="3.1" stroke-dasharray="1.05 1.47" stroke-dashoffset="0.52"/>
<line x1="491.3" y1="447.4" x2="513" y2="447.4" stroke="#7c5a36" stroke-width="3.0" stroke-dasharray="0 2.52" stroke-linecap="round"/>
<line x1="491.3" y1="447.4" x2="513" y2="447.4" stroke="#e9e1d6" stroke-width="1.1" stroke-dasharray="0 2.52" stroke-linecap="round"/>
<line x1="491.3" y1="458.0" x2="513" y2="458.0" stroke="#7c5a36" stroke-width="3.0" stroke-dasharray="0 2.52" stroke-linecap="round"/>
<line x1="491.3" y1="458.0" x2="513" y2="458.0" stroke="#e9e1d6" stroke-width="1.1" stroke-dasharray="0 2.52" stroke-linecap="round"/>
<circle cx="474.3" cy="472.4" r="20" fill="#f1f1f4"/>
<path d="M457.11 452.63 A26.2 26.2 0 1 0 491.49 452.63" fill="none" stroke="#cdbca4" stroke-width="8.4"/>
<path d="M457.11 452.63 A26.2 26.2 0 1 0 491.49 452.63" fill="none" stroke="#fff" stroke-width="0.7" opacity="0.6"/>
<circle cx="474.3" cy="472.4" r="19.6" fill="none" stroke="#fafafa" stroke-width="1.6"/>
<path d="M455.64 450.93 A28.45 28.45 0 1 0 492.96 450.93" fill="none" stroke="#6a4a28" stroke-width="3.0" stroke-dasharray="0.98 1.759"/>
<path d="M458.59 454.32 A23.95 23.95 0 1 0 490.01 454.32" fill="none" stroke="#6a4a28" stroke-width="3.0" stroke-dasharray="0.82 1.481"/>
<path d="M453.77 448.78 A31.299999999999997 31.299999999999997 0 1 0 494.83 448.78" fill="none" stroke="#7c5a36" stroke-width="3.0" stroke-dasharray="0 3.011" stroke-linecap="round"/>
<path d="M453.77 448.78 A31.299999999999997 31.299999999999997 0 1 0 494.83 448.78" fill="none" stroke="#e9e1d6" stroke-width="1.1" stroke-dasharray="0 3.011" stroke-linecap="round"/>
<path d="M460.46 456.48 A21.1 21.1 0 1 0 488.14 456.48" fill="none" stroke="#7c5a36" stroke-width="3.0" stroke-dasharray="0 2.029" stroke-linecap="round"/>
<path d="M460.46 456.48 A21.1 21.1 0 1 0 488.14 456.48" fill="none" stroke="#e9e1d6" stroke-width="1.1" stroke-dasharray="0 2.029" stroke-linecap="round"/>
<circle cx="457.20" cy="452.70" r="5.6" fill="#d9cdbb"/>
<circle cx="457.20" cy="452.70" r="2.7" fill="none" stroke="#6a4a28" stroke-width="3.4" stroke-dasharray="0.75 0.95"/>
<circle cx="457.20" cy="452.70" r="0.6" fill="#fff"/>
<circle cx="457.20" cy="452.70" r="5.3" fill="none" stroke="#7c5a36" stroke-width="2.8" stroke-dasharray="0 2.5" stroke-linecap="round"/>
<circle cx="457.20" cy="452.70" r="5.3" fill="none" stroke="#e9e1d6" stroke-width="1.0" stroke-dasharray="0 2.5" stroke-linecap="round"/>
<circle cx="491.40" cy="452.70" r="5.6" fill="#d9cdbb"/>
<circle cx="491.40" cy="452.70" r="2.7" fill="none" stroke="#6a4a28" stroke-width="3.4" stroke-dasharray="0.75 0.95"/>
<circle cx="491.40" cy="452.70" r="0.6" fill="#fff"/>
<circle cx="491.40" cy="452.70" r="5.3" fill="none" stroke="#7c5a36" stroke-width="2.8" stroke-dasharray="0 2.5" stroke-linecap="round"/>
<circle cx="491.40" cy="452.70" r="5.3" fill="none" stroke="#e9e1d6" stroke-width="1.0" stroke-dasharray="0 2.5" stroke-linecap="round"/>
<rect x="333.65" y="426.55" width="5.70" height="32.50" rx="2.85" fill="#badca4" stroke="#68ad48" stroke-width="1.1"/>
<rect x="340.25" y="426.55" width="6.10" height="33.30" rx="3.05" fill="#c6c6c6" stroke="#4d64a6" stroke-width="1.1"/>
<rect x="347.45" y="452.75" width="5.90" height="20.50" rx="2.95" fill="#c6c6c6" stroke="#4d64a6" stroke-width="1.1"/>
<rect x="354.25" y="452.15" width="5.70" height="33.10" rx="2.85" fill="#c6c6c6" stroke="#4d64a6" stroke-width="1.1"/>
<rect x="409.75" y="426.55" width="6.10" height="33.30" rx="3.05" fill="#badca4" stroke="#68ad48" stroke-width="1.1"/>
<rect x="416.55" y="426.55" width="5.90" height="33.30" rx="2.95" fill="#badca4" stroke="#68ad48" stroke-width="1.1"/>
<rect x="422.85" y="453.25" width="6.00" height="20.40" rx="3.00" fill="#c6c6c6" stroke="#4d64a6" stroke-width="1.1"/>
<rect x="429.75" y="452.05" width="6.30" height="33.20" rx="3.15" fill="#c6c6c6" stroke="#4d64a6" stroke-width="1.1"/>
<rect x="460.75" y="476.55" width="6.10" height="33.20" rx="3.05" fill="#badca4" stroke="#68ad48" stroke-width="1.1"/>
<rect x="467.55" y="476.55" width="6.10" height="33.20" rx="3.05" fill="#badca4" stroke="#68ad48" stroke-width="1.1"/>
<rect x="474.15" y="502.55" width="5.50" height="22.00" rx="2.75" fill="#badca4" stroke="#68ad48" stroke-width="1.1"/>
<rect x="480.55" y="501.35" width="6.60" height="32.40" rx="3.30" fill="#c6c6c6" stroke="#4d64a6" stroke-width="1.1"/>
<text x="339.7" y="409.8" font-size="7" fill="#222" stroke="#222" stroke-width="0.1" text-anchor="middle" >PAM3CSK4</text>
<text x="416.2" y="409.8" font-size="7" fill="#222" stroke="#222" stroke-width="0.1" text-anchor="middle" >LPS</text>
<line x1="339.70" y1="413.00" x2="339.70" y2="420.90" stroke="#111" stroke-width="1.0"/>
<path d="M339.70 423.60 L337.90 420.40 L341.50 420.40Z" fill="#111"/>
<line x1="339.7" y1="413" x2="339.7" y2="419" stroke="#5a74a8" stroke-width="1.1"/>
<line x1="416.20" y1="413.00" x2="416.20" y2="420.90" stroke="#111" stroke-width="1.0"/>
<path d="M416.20 423.60 L414.40 420.40 L418.00 420.40Z" fill="#111"/>
<text x="329.3" y="439.4" font-size="7.2" fill="#68ad48" stroke="#68ad48" stroke-width="0.1" text-anchor="end" textLength="15.0" lengthAdjust="spacingAndGlyphs">TLR1</text>
<text x="350.0" y="439.4" font-size="7.2" fill="#222" stroke="#222" stroke-width="0.1" text-anchor="start" textLength="15.6" lengthAdjust="spacingAndGlyphs">TLR2</text>
<text x="426.5" y="439.4" font-size="7.2" fill="#68ad48" stroke="#68ad48" stroke-width="0.1" text-anchor="start" textLength="15.6" lengthAdjust="spacingAndGlyphs">TLR4</text>
<text x="350.2" y="481.2" font-size="7.2" fill="#222" stroke="#222" stroke-width="0.1" text-anchor="end" >TIRAP</text>
<text x="363.0" y="485.6" font-size="7.2" fill="#222" stroke="#222" stroke-width="0.1" text-anchor="start" >MyD88</text>
<text x="419.3" y="474.9" font-size="7.2" fill="#222" stroke="#222" stroke-width="0.1" text-anchor="end" >TIRAP</text>
<text x="425.9" y="485.4" font-size="7.2" fill="#222" stroke="#222" stroke-width="0.1" text-anchor="end" >MyD88</text>
<text x="473.6" y="471.6" font-size="6.2" fill="#4a4a4a" text-anchor="middle" textLength="30" lengthAdjust="spacingAndGlyphs">Endocytosis</text>
<text x="474.8" y="482.9" font-size="7.2" fill="#68ad48" stroke="#68ad48" stroke-width="0.1" text-anchor="start" textLength="15.3" lengthAdjust="spacingAndGlyphs">TLR4</text>
<text x="472.3" y="523.9" font-size="7.2" fill="#68ad48" stroke="#68ad48" stroke-width="0.1" text-anchor="end" >TRAM</text>
<text x="490.6" y="533.0" font-size="7.2" fill="#222" stroke="#222" stroke-width="0.1" text-anchor="start" >TRIF</text>
<path d="M357.1 485.8 V497.3 H432.9 V485.8" fill="none" stroke="#111" stroke-width="1.1"/>
<line x1="388.00" y1="497.30" x2="388.00" y2="503.30" stroke="#111" stroke-width="1.1"/>
<path d="M388.00 506.00 L386.20 502.80 L389.80 502.80Z" fill="#111"/>
<ellipse cx="387.8" cy="514.7" rx="12.20" ry="5.30" fill="#c6c6c6" stroke="#4d64a6" stroke-width="1.2"/>
<text x="387.8" y="517.22" font-size="7" fill="#222" stroke="#222" stroke-width="0.1" text-anchor="middle" >IRAK4</text>
<polygon points="387.80,529.30 399.30,533.40 399.30,539.20 387.80,543.30 376.30,539.20 376.30,533.40" fill="#badca4" stroke="#68ad48" stroke-width="1.2" stroke-linejoin="round"/>
<text x="387.8" y="538.82" font-size="7" fill="#222" stroke="#222" stroke-width="0.1" text-anchor="middle" >TRAF6</text>
<ellipse cx="374.9" cy="525.0" rx="12.30" ry="5.50" fill="#badca4" stroke="#68ad48" stroke-width="1.2"/>
<text x="374.9" y="527.52" font-size="7" fill="#222" stroke="#222" stroke-width="0.1" text-anchor="middle" >IRAK1</text>
<ellipse cx="400.8" cy="525.0" rx="12.30" ry="5.50" fill="#c6c6c6" stroke="#4d64a6" stroke-width="1.2"/>
<text x="400.8" y="527.52" font-size="7" fill="#222" stroke="#222" stroke-width="0.1" text-anchor="middle" >IRAK2</text>
<line x1="387.80" y1="544.50" x2="387.80" y2="552.80" stroke="#111" stroke-width="1.1"/>
<path d="M387.80 555.50 L386.00 552.30 L389.60 552.30Z" fill="#111"/>
<polygon points="362.50,572.80 367.90,565.60 378.90,565.60 384.30,572.80 378.90,580.00 367.90,580.00" fill="#c6c6c6" stroke="#4d64a6" stroke-width="1.2" stroke-linejoin="round"/>
<polygon points="391.40,572.80 396.80,565.60 407.80,565.60 413.20,572.80 407.80,580.00 396.80,580.00" fill="#c6c6c6" stroke="#4d64a6" stroke-width="1.2" stroke-linejoin="round"/>
<text x="372.0" y="575.3" font-size="7" fill="#222" stroke="#222" stroke-width="0.1" text-anchor="middle" >TAB1</text>
<text x="404.2" y="575.3" font-size="7" fill="#222" stroke="#222" stroke-width="0.1" text-anchor="middle" >TAB3</text>
<polygon points="377.80,565.50 382.40,557.85 393.80,557.85 398.40,565.50 393.80,573.15 382.40,573.15" fill="#badca4" stroke="#68ad48" stroke-width="1.2" stroke-linejoin="round"/>
<text x="388.1" y="568.02" font-size="7" fill="#222" stroke="#222" stroke-width="0.1" text-anchor="middle" >TAB2</text>
<ellipse cx="388.1" cy="580.9" rx="9.40" ry="5.90" fill="#c6c6c6" stroke="#4d64a6" stroke-width="1.2"/>
<text x="388.1" y="583.42" font-size="7" fill="#222" stroke="#222" stroke-width="0.1" text-anchor="middle" >TAK1</text>
<path d="M387.8 587 V590.6 M330.4 590.6 H411" fill="none" stroke="#111" stroke-width="1.1"/>
<line x1="330.40" y1="590.60" x2="330.40" y2="597.80" stroke="#111" stroke-width="1.1"/>
<path d="M330.40 600.50 L328.60 597.30 L332.20 597.30Z" fill="#111"/>
<line x1="368.90" y1="590.60" x2="368.90" y2="597.80" stroke="#111" stroke-width="1.1"/>
<path d="M368.90 600.50 L367.10 597.30 L370.70 597.30Z" fill="#111"/>
<line x1="411.00" y1="590.60" x2="411.00" y2="597.30" stroke="#111" stroke-width="1.1"/>
<path d="M411.00 600.00 L409.20 596.80 L412.80 596.80Z" fill="#111"/>
<ellipse cx="330.4" cy="609.6" rx="14.20" ry="5.00" fill="#c6c6c6" stroke="#4d64a6" stroke-width="1.2"/>
<text x="330.4" y="612.12" font-size="7" fill="#222" stroke="#222" stroke-width="0.1" text-anchor="middle" >MKK4/7</text>
<ellipse cx="368.9" cy="609.6" rx="14.00" ry="5.00" fill="#c6c6c6" stroke="#4d64a6" stroke-width="1.2"/>
<text x="368.9" y="612.12" font-size="7" fill="#222" stroke="#222" stroke-width="0.1" text-anchor="middle" >MKK3/6</text>
<ellipse cx="410.3" cy="607.0" rx="11.10" ry="5.40" fill="#c6c6c6" stroke="#4d64a6" stroke-width="1.2"/>
<text x="410.3" y="609.52" font-size="7" fill="#222" stroke="#222" stroke-width="0.1" text-anchor="middle" >IKKα</text>
<ellipse cx="410.3" cy="618.4" rx="11.10" ry="5.10" fill="#c6c6c6" stroke="#4d64a6" stroke-width="1.2"/>
<text x="410.3" y="620.92" font-size="7" fill="#222" stroke="#222" stroke-width="0.1" text-anchor="middle" >IKKβ</text>
<line x1="330.40" y1="615.50" x2="330.40" y2="625.60" stroke="#111" stroke-width="1.1"/>
<path d="M330.40 628.30 L328.60 625.10 L332.20 625.10Z" fill="#111"/>
<line x1="368.90" y1="615.50" x2="368.90" y2="625.60" stroke="#111" stroke-width="1.1"/>
<path d="M368.90 628.30 L367.10 625.10 L370.70 625.10Z" fill="#111"/>
<polygon points="320.30,635.00 325.59,629.30 335.01,629.30 340.30,635.00 335.01,640.70 325.59,640.70" fill="#c6c6c6" stroke="#4d64a6" stroke-width="1.2" stroke-linejoin="round"/>
<text x="330.3" y="637.52" font-size="7" fill="#222" stroke="#222" stroke-width="0.1" text-anchor="middle" >JNK</text>
<polygon points="358.90,635.00 364.19,629.30 372.61,629.30 377.90,635.00 372.61,640.70 364.19,640.70" fill="#c6c6c6" stroke="#4d64a6" stroke-width="1.2" stroke-linejoin="round"/>
<text x="368.4" y="637.52" font-size="7" fill="#222" stroke="#222" stroke-width="0.1" text-anchor="middle" >p38</text>
<path d="M411 624.3 V632 M407.6 632 H414.6" fill="none" stroke="#111" stroke-width="1.1"/>
<polygon points="400.60,641.60 406.14,635.60 415.06,635.60 420.60,641.60 415.06,647.60 406.14,647.60" fill="#c6c6c6" stroke="#4d64a6" stroke-width="1.2" stroke-linejoin="round"/>
<text x="410.6" y="644.12" font-size="7" fill="#222" stroke="#222" stroke-width="0.1" text-anchor="middle" >IκB</text>
<path d="M411 647.6 V652.6 M407.6 652.6 H414.6" fill="none" stroke="#111" stroke-width="1.1"/>
<line x1="336.00" y1="642.80" x2="342.42" y2="650.12" stroke="#111" stroke-width="1.2"/>
<path d="M344.60 652.60 L340.52 651.13 L343.67 648.36Z" fill="#111"/>
<line x1="363.20" y1="642.80" x2="357.46" y2="650.02" stroke="#111" stroke-width="1.2"/>
<path d="M355.40 652.60 L356.12 648.32 L359.41 650.93Z" fill="#111"/>
<rect x="339.40" y="654.90" width="21.10" height="14.30" rx="7.3" fill="#c6c6c6" stroke="#4d64a6" stroke-width="1.2"/>
<text x="349.95" y="664.57" font-size="7" fill="#222" stroke="#222" stroke-width="0.1" text-anchor="middle" >AP1</text>
<rect x="396.80" y="655.30" width="13.90" height="13.80" rx="5.2" fill="#badca4" stroke="#68ad48" stroke-width="1.4"/>
<text x="403.75" y="664.72" font-size="7" fill="#222" stroke="#222" stroke-width="0.1" text-anchor="middle" >p50</text>
<rect x="410.90" y="655.30" width="14.70" height="13.80" rx="5.2" fill="#badca4" stroke="#68ad48" stroke-width="1.4"/>
<text x="418.25" y="664.72" font-size="7" fill="#222" stroke="#222" stroke-width="0.1" text-anchor="middle" >p65</text>
<text x="438.9" y="665.0" font-size="7" fill="#68ad48" stroke="#68ad48" stroke-width="0.1" text-anchor="middle" >NF-κB</text>
<rect x="453.90" y="655.10" width="21.00" height="14.20" rx="7.3" fill="#c6c6c6" stroke="#4d64a6" stroke-width="1.2"/>
<text x="464.4" y="664.72" font-size="7" fill="#222" stroke="#222" stroke-width="0.1" text-anchor="middle" >IRF3</text>
<path d="M483.4 534.3 V557.2 H464.7 V578" fill="none" stroke="#111" stroke-width="1.1"/>
<line x1="464.70" y1="575.00" x2="464.70" y2="580.10" stroke="#111" stroke-width="1.1"/>
<path d="M464.70 582.80 L462.90 579.60 L466.50 579.60Z" fill="#111"/>
<line x1="483.40" y1="537.30" x2="450.10" y2="537.30" stroke="#111" stroke-width="1.1"/>
<path d="M447.40 537.30 L450.60 535.50 L450.60 539.10Z" fill="#111"/>
<ellipse cx="431.0" cy="537.6" rx="11.70" ry="5.70" fill="#c6c6c6" stroke="#4d64a6" stroke-width="1.2"/>
<text x="431.0" y="540.12" font-size="7" fill="#222" stroke="#222" stroke-width="0.1" text-anchor="middle" >RIP1</text>
<line x1="417.80" y1="537.40" x2="410.00" y2="537.40" stroke="#111" stroke-width="1.1"/>
<path d="M407.30 537.40 L410.50 535.60 L410.50 539.20Z" fill="#111"/>
<polygon points="464.70,584.00 476.20,588.10 476.20,593.90 464.70,598.00 453.20,593.90 453.20,588.10" fill="#c6c6c6" stroke="#4d64a6" stroke-width="1.2" stroke-linejoin="round"/>
<text x="464.7" y="593.52" font-size="7" fill="#222" stroke="#222" stroke-width="0.1" text-anchor="middle" >TRAF3</text>
<line x1="464.70" y1="599.20" x2="464.70" y2="608.50" stroke="#111" stroke-width="1.1"/>
<path d="M464.70 611.20 L462.90 608.00 L466.50 608.00Z" fill="#111"/>
<ellipse cx="464.7" cy="620.9" rx="11.60" ry="5.50" fill="#c6c6c6" stroke="#4d64a6" stroke-width="1.2"/>
<text x="464.7" y="623.42" font-size="7" fill="#222" stroke="#222" stroke-width="0.1" text-anchor="middle" >TBK1</text>
<ellipse cx="464.7" cy="632.4" rx="11.60" ry="5.50" fill="#c6c6c6" stroke="#4d64a6" stroke-width="1.2"/>
<text x="464.7" y="634.92" font-size="7" fill="#222" stroke="#222" stroke-width="0.1" text-anchor="middle" >IKKε</text>
<line x1="464.30" y1="640.00" x2="464.30" y2="648.80" stroke="#111" stroke-width="1.1"/>
<path d="M464.30 651.50 L462.50 648.30 L466.10 648.30Z" fill="#111"/>
<line x1="349.80" y1="668.60" x2="349.80" y2="675.10" stroke="#111" stroke-width="1.1"/>
<path d="M349.80 677.80 L348.00 674.60 L351.60 674.60Z" fill="#111"/>
<line x1="410.70" y1="670.20" x2="410.70" y2="674.80" stroke="#111" stroke-width="1.1"/>
<path d="M410.70 677.50 L408.90 674.30 L412.50 674.30Z" fill="#111"/>
<line x1="464.30" y1="670.20" x2="464.30" y2="674.50" stroke="#111" stroke-width="1.1"/>
<path d="M464.30 677.20 L462.50 674.00 L466.10 674.00Z" fill="#111"/>
<path d="M298.8 684.4 A640 640 0 0 1 511 683.4 V726.8 H298.8 Z" fill="#2e4d83"/>
<polyline points="299.80,708.80 300.30,709.24 300.80,709.69 301.30,710.12 301.80,710.55 302.30,710.97 302.80,711.38 303.30,711.78 303.80,712.16 304.30,712.52 304.80,712.86 305.30,713.18 305.80,713.48 306.30,713.75 306.80,714.00 307.30,714.22 307.80,714.41 308.30,714.57 308.80,714.70 309.30,714.79 309.80,714.86 310.30,714.90 310.80,714.90 311.30,714.87 311.80,714.80 312.30,714.71 312.80,714.58 313.30,714.42 313.80,714.24 314.30,714.02 314.80,713.78 315.30,713.51 315.80,713.21 316.30,712.90 316.80,712.56 317.30,712.20 317.80,711.82 318.30,711.42 318.80,711.02 319.30,710.60 319.80,710.17 320.30,709.73 320.80,709.29 321.30,708.84 321.80,708.40 322.30,707.96 322.80,707.52 323.30,707.09 323.80,706.67 324.30,706.26 324.80,705.86 325.30,705.48 325.80,705.11 326.30,704.77 326.80,704.45 327.30,704.15 327.80,703.87 328.30,703.62 328.80,703.40 329.30,703.21 329.80,703.05 330.30,702.91 330.80,702.81 331.30,702.74 331.80,702.71 332.30,702.70 332.80,702.73 333.30,702.79 333.80,702.88 334.30,703.00 334.80,703.16 335.30,703.34 335.80,703.55 336.30,703.80 336.80,704.06 337.30,704.36 337.80,704.67 338.30,705.01 338.80,705.37 339.30,705.74 339.80,706.14 340.30,706.54 340.80,706.96 341.30,707.39 341.80,707.83 342.30,708.27 342.80,708.71 343.30,709.16 343.80,709.60 344.30,710.04 344.80,710.47 345.30,710.89 345.80,711.30 346.30,711.70 346.80,712.08 347.30,712.45 347.80,712.80 348.30,713.12 348.80,713.42 349.30,713.70 349.80,713.95 350.30,714.18 350.80,714.37 351.30,714.54 351.80,714.67 352.30,714.78 352.80,714.85 353.30,714.89 353.80,714.90 354.30,714.87 354.80,714.82 355.30,714.73 355.80,714.61 356.30,714.46 356.80,714.28 357.30,714.07 357.80,713.83 358.30,713.57 358.80,713.28 359.30,712.96 359.80,712.63 360.30,712.27 360.80,711.89 361.30,711.50 361.80,711.10 362.30,710.68 362.80,710.25 363.30,709.82 363.80,709.38 364.30,708.93 364.80,708.49 365.30,708.05 365.80,707.61 366.30,707.17 366.80,706.75 367.30,706.34 367.80,705.94 368.30,705.55 368.80,705.19 369.30,704.84 369.80,704.51 370.30,704.21 370.80,703.93 371.30,703.67 371.80,703.44 372.30,703.25 372.80,703.08 373.30,702.94 373.80,702.83 374.30,702.76 374.80,702.71 375.30,702.70 375.80,702.72 376.30,702.77 376.80,702.86 377.30,702.98 377.80,703.12 378.30,703.30 378.80,703.51 379.30,703.75 379.80,704.01 380.30,704.29 380.80,704.61 381.30,704.94 381.80,705.29 382.30,705.67 382.80,706.06 383.30,706.46 383.80,706.88 384.30,707.30 384.80,707.74 385.30,708.18 385.80,708.62 386.30,709.07 386.80,709.51 387.30,709.95 387.80,710.38 388.30,710.81 388.80,711.22 389.30,711.62 389.80,712.01 390.30,712.38 390.80,712.73 391.30,713.06 391.80,713.36 392.30,713.65 392.80,713.90 393.30,714.13 393.80,714.34 394.30,714.51 394.80,714.65 395.30,714.76 395.80,714.84 396.30,714.89 396.80,714.90 397.30,714.88 397.80,714.83 398.30,714.75 398.80,714.64 399.30,714.49 399.80,714.32 400.30,714.11 400.80,713.88 401.30,713.62 401.80,713.34 402.30,713.03 402.80,712.69 403.30,712.34 403.80,711.97 404.30,711.58 404.80,711.18 405.30,710.77 405.80,710.34 406.30,709.91 406.80,709.47 407.30,709.02 407.80,708.58 408.30,708.13 408.80,707.69 409.30,707.26 409.80,706.83 410.30,706.42 410.80,706.02 411.30,705.63 411.80,705.26 412.30,704.91 412.80,704.57 413.30,704.26 413.80,703.98 414.30,703.72 414.80,703.49 415.30,703.28 415.80,703.11 416.30,702.96 416.80,702.85 417.30,702.77 417.80,702.72 418.30,702.70 418.80,702.71 419.30,702.76 419.80,702.84 420.30,702.95 420.80,703.09 421.30,703.26 421.80,703.47 422.30,703.70 422.80,703.95 423.30,704.24 423.80,704.54 424.30,704.87 424.80,705.22 425.30,705.59 425.80,705.98 426.30,706.38 426.80,706.79 427.30,707.22 427.80,707.65 428.30,708.09 428.80,708.53 429.30,708.98 429.80,709.42 430.30,709.86 430.80,710.30 431.30,710.72 431.80,711.14 432.30,711.54 432.80,711.93 433.30,712.31 433.80,712.66 434.30,712.99 434.80,713.31 435.30,713.59 435.80,713.85 436.30,714.09 436.80,714.30 437.30,714.48 437.80,714.62 438.30,714.74 438.80,714.83 439.30,714.88 439.80,714.90 440.30,714.89 440.80,714.84 441.30,714.77 441.80,714.66 442.30,714.52 442.80,714.35 443.30,714.16 443.80,713.93 444.30,713.67 444.80,713.39 445.30,713.09 445.80,712.76 446.30,712.41 446.80,712.05 447.30,711.66 447.80,711.26 448.30,710.85 448.80,710.43 449.30,709.99 449.80,709.55 450.30,709.11 450.80,708.67 451.30,708.22 451.80,707.78 452.30,707.35 452.80,706.92 453.30,706.50 453.80,706.10 454.30,705.71 454.80,705.33 455.30,704.97 455.80,704.64 456.30,704.32 456.80,704.03 457.30,703.77 457.80,703.53 458.30,703.32 458.80,703.14 459.30,702.99 459.80,702.87 460.30,702.78 460.80,702.73 461.30,702.70 461.80,702.71 462.30,702.75 462.80,702.82 463.30,702.93 463.80,703.06 464.30,703.23 464.80,703.42 465.30,703.65 465.80,703.90 466.30,704.18 466.80,704.48 467.30,704.80 467.80,705.15 468.30,705.52 468.80,705.90 469.30,706.30 469.80,706.71 470.30,707.13 470.80,707.56 471.30,708.00 471.80,708.44 472.30,708.89 472.80,709.33 473.30,709.77 473.80,710.21 474.30,710.64 474.80,711.06 475.30,711.46 475.80,711.86 476.30,712.23 476.80,712.59 477.30,712.93 477.80,713.24 478.30,713.54 478.80,713.80 479.30,714.05 479.80,714.26 480.30,714.44 480.80,714.60 481.30,714.72 481.80,714.81 482.30,714.87 482.80,714.90 483.30,714.89 483.80,714.86 484.30,714.79 484.80,714.69 485.30,714.55 485.80,714.39 486.30,714.20 486.80,713.98 487.30,713.73 487.80,713.45 488.30,713.15 488.80,712.83 489.30,712.49 489.80,712.12 490.30,711.74 490.80,711.34 491.30,710.93 491.80,710.51 492.30,710.08 492.80,709.64 493.30,709.20 493.80,708.76 494.30,708.31 494.80,707.87 495.30,707.43 495.80,707.00 496.30,706.58 496.80,706.18 497.30,705.78 497.80,705.40 498.30,705.04 498.80,704.70 499.30,704.39 499.80,704.09 500.30,703.82 500.80,703.58 501.30,703.36 501.80,703.18 502.30,703.02 502.80,702.89 503.30,702.80 503.80,702.73 504.30,702.70 504.80,702.70 505.30,702.74 505.80,702.81 506.30,702.90 506.80,703.03 507.30,703.19 507.80,703.38 508.30,703.60 508.80,703.85 509.30,704.12 509.80,704.42 510.30,704.74 510.80,705.08" fill="none" stroke="#d8d8dc" stroke-width="1.7"/>
<polyline points="299.80,708.80 300.30,708.36 300.80,707.91 301.30,707.48 301.80,707.05 302.30,706.63 302.80,706.22 303.30,705.82 303.80,705.44 304.30,705.08 304.80,704.74 305.30,704.42 305.80,704.12 306.30,703.85 306.80,703.60 307.30,703.38 307.80,703.19 308.30,703.03 308.80,702.90 309.30,702.81 309.80,702.74 310.30,702.70 310.80,702.70 311.30,702.73 311.80,702.80 312.30,702.89 312.80,703.02 313.30,703.18 313.80,703.36 314.30,703.58 314.80,703.82 315.30,704.09 315.80,704.39 316.30,704.70 316.80,705.04 317.30,705.40 317.80,705.78 318.30,706.18 318.80,706.58 319.30,707.00 319.80,707.43 320.30,707.87 320.80,708.31 321.30,708.76 321.80,709.20 322.30,709.64 322.80,710.08 323.30,710.51 323.80,710.93 324.30,711.34 324.80,711.74 325.30,712.12 325.80,712.49 326.30,712.83 326.80,713.15 327.30,713.45 327.80,713.73 328.30,713.98 328.80,714.20 329.30,714.39 329.80,714.55 330.30,714.69 330.80,714.79 331.30,714.86 331.80,714.89 332.30,714.90 332.80,714.87 333.30,714.81 333.80,714.72 334.30,714.60 334.80,714.44 335.30,714.26 335.80,714.05 336.30,713.80 336.80,713.54 337.30,713.24 337.80,712.93 338.30,712.59 338.80,712.23 339.30,711.86 339.80,711.46 340.30,711.06 340.80,710.64 341.30,710.21 341.80,709.77 342.30,709.33 342.80,708.89 343.30,708.44 343.80,708.00 344.30,707.56 344.80,707.13 345.30,706.71 345.80,706.30 346.30,705.90 346.80,705.52 347.30,705.15 347.80,704.80 348.30,704.48 348.80,704.18 349.30,703.90 349.80,703.65 350.30,703.42 350.80,703.23 351.30,703.06 351.80,702.93 352.30,702.82 352.80,702.75 353.30,702.71 353.80,702.70 354.30,702.73 354.80,702.78 355.30,702.87 355.80,702.99 356.30,703.14 356.80,703.32 357.30,703.53 357.80,703.77 358.30,704.03 358.80,704.32 359.30,704.64 359.80,704.97 360.30,705.33 360.80,705.71 361.30,706.10 361.80,706.50 362.30,706.92 362.80,707.35 363.30,707.78 363.80,708.22 364.30,708.67 364.80,709.11 365.30,709.55 365.80,709.99 366.30,710.43 366.80,710.85 367.30,711.26 367.80,711.66 368.30,712.05 368.80,712.41 369.30,712.76 369.80,713.09 370.30,713.39 370.80,713.67 371.30,713.93 371.80,714.16 372.30,714.35 372.80,714.52 373.30,714.66 373.80,714.77 374.30,714.84 374.80,714.89 375.30,714.90 375.80,714.88 376.30,714.83 376.80,714.74 377.30,714.62 377.80,714.48 378.30,714.30 378.80,714.09 379.30,713.85 379.80,713.59 380.30,713.31 380.80,712.99 381.30,712.66 381.80,712.31 382.30,711.93 382.80,711.54 383.30,711.14 383.80,710.72 384.30,710.30 384.80,709.86 385.30,709.42 385.80,708.98 386.30,708.53 386.80,708.09 387.30,707.65 387.80,707.22 388.30,706.79 388.80,706.38 389.30,705.98 389.80,705.59 390.30,705.22 390.80,704.87 391.30,704.54 391.80,704.24 392.30,703.95 392.80,703.70 393.30,703.47 393.80,703.26 394.30,703.09 394.80,702.95 395.30,702.84 395.80,702.76 396.30,702.71 396.80,702.70 397.30,702.72 397.80,702.77 398.30,702.85 398.80,702.96 399.30,703.11 399.80,703.28 400.30,703.49 400.80,703.72 401.30,703.98 401.80,704.26 402.30,704.57 402.80,704.91 403.30,705.26 403.80,705.63 404.30,706.02 404.80,706.42 405.30,706.83 405.80,707.26 406.30,707.69 406.80,708.13 407.30,708.58 407.80,709.02 408.30,709.47 408.80,709.91 409.30,710.34 409.80,710.77 410.30,711.18 410.80,711.58 411.30,711.97 411.80,712.34 412.30,712.69 412.80,713.03 413.30,713.34 413.80,713.62 414.30,713.88 414.80,714.11 415.30,714.32 415.80,714.49 416.30,714.64 416.80,714.75 417.30,714.83 417.80,714.88 418.30,714.90 418.80,714.89 419.30,714.84 419.80,714.76 420.30,714.65 420.80,714.51 421.30,714.34 421.80,714.13 422.30,713.90 422.80,713.65 423.30,713.36 423.80,713.06 424.30,712.73 424.80,712.38 425.30,712.01 425.80,711.62 426.30,711.22 426.80,710.81 427.30,710.38 427.80,709.95 428.30,709.51 428.80,709.07 429.30,708.62 429.80,708.18 430.30,707.74 430.80,707.30 431.30,706.88 431.80,706.46 432.30,706.06 432.80,705.67 433.30,705.29 433.80,704.94 434.30,704.61 434.80,704.29 435.30,704.01 435.80,703.75 436.30,703.51 436.80,703.30 437.30,703.12 437.80,702.98 438.30,702.86 438.80,702.77 439.30,702.72 439.80,702.70 440.30,702.71 440.80,702.76 441.30,702.83 441.80,702.94 442.30,703.08 442.80,703.25 443.30,703.44 443.80,703.67 444.30,703.93 444.80,704.21 445.30,704.51 445.80,704.84 446.30,705.19 446.80,705.55 447.30,705.94 447.80,706.34 448.30,706.75 448.80,707.17 449.30,707.61 449.80,708.05 450.30,708.49 450.80,708.93 451.30,709.38 451.80,709.82 452.30,710.25 452.80,710.68 453.30,711.10 453.80,711.50 454.30,711.89 454.80,712.27 455.30,712.63 455.80,712.96 456.30,713.28 456.80,713.57 457.30,713.83 457.80,714.07 458.30,714.28 458.80,714.46 459.30,714.61 459.80,714.73 460.30,714.82 460.80,714.87 461.30,714.90 461.80,714.89 462.30,714.85 462.80,714.78 463.30,714.67 463.80,714.54 464.30,714.37 464.80,714.18 465.30,713.95 465.80,713.70 466.30,713.42 466.80,713.12 467.30,712.80 467.80,712.45 468.30,712.08 468.80,711.70 469.30,711.30 469.80,710.89 470.30,710.47 470.80,710.04 471.30,709.60 471.80,709.16 472.30,708.71 472.80,708.27 473.30,707.83 473.80,707.39 474.30,706.96 474.80,706.54 475.30,706.14 475.80,705.74 476.30,705.37 476.80,705.01 477.30,704.67 477.80,704.36 478.30,704.06 478.80,703.80 479.30,703.55 479.80,703.34 480.30,703.16 480.80,703.00 481.30,702.88 481.80,702.79 482.30,702.73 482.80,702.70 483.30,702.71 483.80,702.74 484.30,702.81 484.80,702.91 485.30,703.05 485.80,703.21 486.30,703.40 486.80,703.62 487.30,703.87 487.80,704.15 488.30,704.45 488.80,704.77 489.30,705.11 489.80,705.48 490.30,705.86 490.80,706.26 491.30,706.67 491.80,707.09 492.30,707.52 492.80,707.96 493.30,708.40 493.80,708.84 494.30,709.29 494.80,709.73 495.30,710.17 495.80,710.60 496.30,711.02 496.80,711.42 497.30,711.82 497.80,712.20 498.30,712.56 498.80,712.90 499.30,713.21 499.80,713.51 500.30,713.78 500.80,714.02 501.30,714.24 501.80,714.42 502.30,714.58 502.80,714.71 503.30,714.80 503.80,714.87 504.30,714.90 504.80,714.90 505.30,714.86 505.80,714.79 506.30,714.70 506.80,714.57 507.30,714.41 507.80,714.22 508.30,714.00 508.80,713.75 509.30,713.48 509.80,713.18 510.30,712.86 510.80,712.52" fill="none" stroke="#d8d8dc" stroke-width="1.7"/>
<path d="M301.10 707.65 V709.95 M303.70 705.52 V712.08 M306.30 703.85 V713.75 M308.90 702.88 V714.72 M311.50 702.76 V714.84 M314.10 703.49 V714.11 M316.70 704.97 V712.63 M319.30 707.00 V710.60 M324.50 706.10 V711.50 M327.10 704.26 V713.34 M329.70 703.08 V714.52 M332.30 702.70 V714.90 M334.90 703.19 V714.41 M337.50 704.48 V713.12 M340.10 706.38 V711.22 M345.30 706.71 V710.89 M347.90 704.74 V712.86 M350.50 703.34 V714.26 M353.10 702.72 V714.88 M355.70 702.96 V714.64 M358.30 704.03 V713.57 M360.90 705.78 V711.82 M363.50 707.96 V709.64 M366.10 707.35 V710.25 M368.70 705.26 V712.34 M371.30 703.67 V713.93 M373.90 702.81 V714.79 M376.50 702.81 V714.79 M379.10 703.65 V713.95 M381.70 705.22 V712.38 M384.30 707.30 V710.30 M386.90 708.00 V709.60 M389.50 705.82 V711.78 M392.10 704.06 V713.54 M394.70 702.98 V714.62 M397.30 702.72 V714.88 M399.90 703.32 V714.28 M402.50 704.70 V712.90 M405.10 706.67 V710.93 M410.30 706.42 V711.18 M412.90 704.51 V713.09 M415.50 703.21 V714.39 M418.10 702.70 V714.90 M420.70 703.06 V714.54 M423.30 704.24 V713.36 M425.90 706.06 V711.54 M431.10 707.05 V710.55 M433.70 705.01 V712.59 M436.30 703.51 V714.09 M438.90 702.76 V714.84 M441.50 702.87 V714.73 M444.10 703.82 V713.78 M446.70 705.48 V712.12 M449.30 707.61 V709.99 M451.90 707.69 V709.91 M454.50 705.55 V712.05 M457.10 703.87 V713.73 M459.70 702.89 V714.71 M462.30 702.75 V714.85 M464.90 703.47 V714.13 M467.50 704.94 V712.66 M470.10 706.96 V710.64 M475.30 706.14 V711.46 M477.90 704.29 V713.31 M480.50 703.09 V714.51 M483.10 702.70 V714.90 M485.70 703.18 V714.42 M488.30 704.45 V713.15 M490.90 706.34 V711.26 M496.10 706.75 V710.85 M498.70 704.77 V712.83 M501.30 703.36 V714.24 M503.90 702.73 V714.87 M506.50 702.95 V714.65 M509.10 704.01 V713.59" stroke="#c4c8d4" stroke-width="0.8" fill="none"/>
<line x1="349.80" y1="680.50" x2="349.80" y2="689.40" stroke="#dcdde2" stroke-width="1.1"/>
<path d="M349.80 692.50 L347.60 688.90 L352.00 688.90Z" fill="#dcdde2"/>
<line x1="410.70" y1="680.50" x2="410.70" y2="689.40" stroke="#dcdde2" stroke-width="1.1"/>
<path d="M410.70 692.50 L408.50 688.90 L412.90 688.90Z" fill="#dcdde2"/>
<line x1="464.30" y1="680.50" x2="464.30" y2="689.40" stroke="#dcdde2" stroke-width="1.1"/>
<path d="M464.30 692.50 L462.10 688.90 L466.50 688.90Z" fill="#dcdde2"/>
<rect x="338.70" y="694.80" width="22.00" height="13.90" rx="6.8999999999999995" fill="none" stroke="#9aa4c0" stroke-width="1.2" opacity="0.7"/>
<rect x="339.90" y="696.00" width="19.60" height="11.50" rx="6.3" fill="#c9c9cb" stroke="#e2e2e6" stroke-width="1.2"/>
<text x="349.7" y="704.27" font-size="7" fill="#222" stroke="#222" stroke-width="0.1" text-anchor="middle" >AP1</text>
<rect x="396.80" y="695.10" width="13.90" height="13.60" rx="5.2" fill="#badca4" stroke="#68ad48" stroke-width="1.4"/>
<text x="403.75" y="704.42" font-size="7" fill="#222" stroke="#222" stroke-width="0.1" text-anchor="middle" >p50</text>
<rect x="410.90" y="695.10" width="14.70" height="13.60" rx="5.2" fill="#badca4" stroke="#68ad48" stroke-width="1.4"/>
<text x="418.25" y="704.42" font-size="7" fill="#222" stroke="#222" stroke-width="0.1" text-anchor="middle" >p65</text>
<rect x="454.00" y="694.40" width="20.60" height="14.40" rx="6.8999999999999995" fill="none" stroke="#9aa4c0" stroke-width="1.2" opacity="0.7"/>
<rect x="455.20" y="695.60" width="18.20" height="12.00" rx="6.3" fill="#c9c9cb" stroke="#e2e2e6" stroke-width="1.2"/>
<text x="464.3" y="704.12" font-size="7" fill="#222" stroke="#222" stroke-width="0.1" text-anchor="middle" >IRF3</text>
<path d="M363.1 707.5 V697.8 H370.6" fill="none" stroke="#dcdde2" stroke-width="1.1"/>
<path d="M374.40000000000003 697.8 L369.0 695.4 L369.0 700.2 Z" fill="#dcdde2"/>
<path d="M429.2 707.5 V697.8 H436.0" fill="none" stroke="#dcdde2" stroke-width="1.1"/>
<path d="M439.8 697.8 L434.4 695.4 L434.4 700.2 Z" fill="#dcdde2"/>
<path d="M478.6 707.5 V697.8 H485.6" fill="none" stroke="#dcdde2" stroke-width="1.1"/>
<path d="M489.40000000000003 697.8 L484.0 695.4 L484.0 700.2 Z" fill="#dcdde2"/>
<text x="85" y="547.6" font-size="10" fill="#2a4884" text-anchor="middle" font-weight="normal" >Neutrophils</text>
<polygon points="27.4,596.8 27.4,596.80 27.9,596.80 28.4,596.80 28.9,596.80 29.4,596.80 29.9,596.80 30.4,596.80 30.9,596.80 31.4,596.80 31.9,596.80 32.4,596.80 32.9,596.80 33.4,596.80 33.9,596.80 34.4,596.80 34.9,596.80 35.4,596.80 35.9,596.80 36.4,596.80 36.9,596.80 37.4,596.79 37.9,596.79 38.4,596.78 38.9,596.76 39.4,596.72 39.9,596.66 40.4,596.57 40.9,596.41 41.4,596.18 41.9,595.83 42.4,595.33 42.9,594.64 43.4,593.70 43.9,592.47 44.4,590.92 44.9,589.02 45.4,586.76 45.9,584.16 46.4,581.26 46.9,578.13 47.4,574.87 47.9,571.58 48.4,568.39 48.9,565.42 49.4,562.77 49.9,560.54 50.4,558.78 50.9,557.51 51.4,556.72 51.9,556.36 52.4,556.34 52.9,557.02 53.4,558.17 53.9,559.65 54.4,561.35 54.9,563.22 55.4,565.21 55.9,567.26 56.4,569.34 56.9,571.41 57.4,573.46 57.9,575.44 58.4,577.35 58.9,579.18 59.4,580.91 59.9,582.53 60.4,584.04 60.9,585.44 61.4,586.73 61.9,587.90 62.4,588.98 62.9,589.94 63.4,590.82 63.9,591.60 64.4,592.29 64.9,592.91 65.4,593.45 65.9,593.93 66.4,594.35 66.9,594.71 67.4,595.03 67.9,595.30 68.4,595.54 68.9,595.74 69.4,595.91 69.9,596.06 70.4,596.18 70.9,596.29 71.4,596.37 71.9,596.45 72.4,596.51 72.9,596.56 73.4,596.61 73.9,596.64 74.4,596.67 74.9,596.70 75.4,596.72 75.9,596.73 76.4,596.75 76.9,596.76 77.4,596.77 77.9,596.77 78.4,596.78 78.9,596.78 79.4,596.79 79.9,596.79 80.4,596.79 80.9,596.79 81.4,596.79 81.9,596.80 82.4,596.80 86.4,596.80 90.4,596.80 94.4,596.80 98.4,596.80 102.4,596.80 106.4,596.80 110.4,596.80 114.4,596.80 118.4,596.80 122.4,596.80 126.4,596.80 130.4,596.80 134.4,596.80 138.4,596.80 142.4,596.80 142.4,596.80 142.4,596.8" fill="#b8204a" fill-opacity="0.55" stroke="none"/>
<polyline points="27.4,596.80 27.9,596.80 28.4,596.80 28.9,596.80 29.4,596.80 29.9,596.80 30.4,596.80 30.9,596.80 31.4,596.80 31.9,596.80 32.4,596.80 32.9,596.80 33.4,596.80 33.9,596.80 34.4,596.80 34.9,596.80 35.4,596.80 35.9,596.80 36.4,596.80 36.9,596.80 37.4,596.79 37.9,596.79 38.4,596.78 38.9,596.76 39.4,596.72 39.9,596.66 40.4,596.57 40.9,596.41 41.4,596.18 41.9,595.83 42.4,595.33 42.9,594.64 43.4,593.70 43.9,592.47 44.4,590.92 44.9,589.02 45.4,586.76 45.9,584.16 46.4,581.26 46.9,578.13 47.4,574.87 47.9,571.58 48.4,568.39 48.9,565.42 49.4,562.77 49.9,560.54 50.4,558.78 50.9,557.51 51.4,556.72 51.9,556.36 52.4,556.34 52.9,557.02 53.4,558.17 53.9,559.65 54.4,561.35 54.9,563.22 55.4,565.21 55.9,567.26 56.4,569.34 56.9,571.41 57.4,573.46 57.9,575.44 58.4,577.35 58.9,579.18 59.4,580.91 59.9,582.53 60.4,584.04 60.9,585.44 61.4,586.73 61.9,587.90 62.4,588.98 62.9,589.94 63.4,590.82 63.9,591.60 64.4,592.29 64.9,592.91 65.4,593.45 65.9,593.93 66.4,594.35 66.9,594.71 67.4,595.03 67.9,595.30 68.4,595.54 68.9,595.74 69.4,595.91 69.9,596.06 70.4,596.18 70.9,596.29 71.4,596.37 71.9,596.45 72.4,596.51 72.9,596.56 73.4,596.61 73.9,596.64 74.4,596.67 74.9,596.70 75.4,596.72 75.9,596.73 76.4,596.75 76.9,596.76 77.4,596.77 77.9,596.77 78.4,596.78 78.9,596.78 79.4,596.79 79.9,596.79 80.4,596.79 80.9,596.79 81.4,596.79 81.9,596.80 82.4,596.80 86.4,596.80 90.4,596.80 94.4,596.80 98.4,596.80 102.4,596.80 106.4,596.80 110.4,596.80 114.4,596.80 118.4,596.80 122.4,596.80 126.4,596.80 130.4,596.80 134.4,596.80 138.4,596.80 142.4,596.80 142.4,596.80" fill="none" stroke="#b8204a" stroke-width="1.2"/>
<polygon points="27.4,618.1 27.4,618.10 27.9,618.10 28.4,618.10 28.9,618.10 29.4,618.10 29.9,618.10 30.4,618.10 30.9,618.10 31.4,618.10 31.9,618.10 32.4,618.10 32.9,618.10 33.4,618.10 33.9,618.10 34.4,618.10 34.9,618.10 35.4,618.10 35.9,618.10 36.4,618.10 36.9,618.10 37.4,618.10 37.9,618.10 38.4,618.10 38.9,618.10 39.4,618.09 39.9,618.09 40.4,618.07 40.9,618.05 41.4,618.01 41.9,617.94 42.4,617.82 42.9,617.63 43.4,617.34 43.9,616.90 44.4,616.28 44.9,615.41 45.4,614.24 45.9,612.74 46.4,610.85 46.9,608.57 47.4,605.91 47.9,602.91 48.4,599.65 48.9,596.24 49.4,592.79 49.9,589.45 50.4,586.36 50.9,583.63 51.4,581.37 51.9,579.63 52.4,578.44 52.9,577.76 53.4,577.51 53.9,577.70 54.4,578.47 54.9,579.59 55.4,580.95 55.9,582.50 56.4,584.19 56.9,585.98 57.4,587.83 57.9,589.71 58.4,591.60 58.9,593.47 59.4,595.31 59.9,597.10 60.4,598.83 60.9,600.48 61.4,602.05 61.9,603.53 62.4,604.92 62.9,606.23 63.4,607.44 63.9,608.55 64.4,609.58 64.9,610.53 65.4,611.39 65.9,612.17 66.4,612.87 66.9,613.51 67.4,614.08 67.9,614.59 68.4,615.04 68.9,615.44 69.4,615.80 69.9,616.11 70.4,616.39 70.9,616.63 71.4,616.84 71.9,617.02 72.4,617.18 72.9,617.32 73.4,617.44 73.9,617.54 74.4,617.63 74.9,617.70 75.4,617.77 75.9,617.82 76.4,617.87 76.9,617.91 77.4,617.94 77.9,617.97 78.4,617.99 78.9,618.01 79.4,618.02 79.9,618.04 80.4,618.05 80.9,618.06 81.4,618.07 81.9,618.07 82.4,618.08 82.9,618.08 83.4,618.09 83.9,618.09 87.9,618.10 91.9,618.10 95.9,618.10 99.9,618.10 103.9,618.10 107.9,618.10 111.9,618.10 115.9,618.10 119.9,618.10 123.9,618.10 127.9,618.10 131.9,618.10 135.9,618.10 139.9,618.10 142.4,618.10 142.4,618.1" fill="#b8204a" fill-opacity="0.35" stroke="none"/>
<polyline points="27.4,618.10 27.9,618.10 28.4,618.10 28.9,618.10 29.4,618.10 29.9,618.10 30.4,618.10 30.9,618.10 31.4,618.10 31.9,618.10 32.4,618.10 32.9,618.10 33.4,618.10 33.9,618.10 34.4,618.10 34.9,618.10 35.4,618.10 35.9,618.10 36.4,618.10 36.9,618.10 37.4,618.10 37.9,618.10 38.4,618.10 38.9,618.10 39.4,618.09 39.9,618.09 40.4,618.07 40.9,618.05 41.4,618.01 41.9,617.94 42.4,617.82 42.9,617.63 43.4,617.34 43.9,616.90 44.4,616.28 44.9,615.41 45.4,614.24 45.9,612.74 46.4,610.85 46.9,608.57 47.4,605.91 47.9,602.91 48.4,599.65 48.9,596.24 49.4,592.79 49.9,589.45 50.4,586.36 50.9,583.63 51.4,581.37 51.9,579.63 52.4,578.44 52.9,577.76 53.4,577.51 53.9,577.70 54.4,578.47 54.9,579.59 55.4,580.95 55.9,582.50 56.4,584.19 56.9,585.98 57.4,587.83 57.9,589.71 58.4,591.60 58.9,593.47 59.4,595.31 59.9,597.10 60.4,598.83 60.9,600.48 61.4,602.05 61.9,603.53 62.4,604.92 62.9,606.23 63.4,607.44 63.9,608.55 64.4,609.58 64.9,610.53 65.4,611.39 65.9,612.17 66.4,612.87 66.9,613.51 67.4,614.08 67.9,614.59 68.4,615.04 68.9,615.44 69.4,615.80 69.9,616.11 70.4,616.39 70.9,616.63 71.4,616.84 71.9,617.02 72.4,617.18 72.9,617.32 73.4,617.44 73.9,617.54 74.4,617.63 74.9,617.70 75.4,617.77 75.9,617.82 76.4,617.87 76.9,617.91 77.4,617.94 77.9,617.97 78.4,617.99 78.9,618.01 79.4,618.02 79.9,618.04 80.4,618.05 80.9,618.06 81.4,618.07 81.9,618.07 82.4,618.08 82.9,618.08 83.4,618.09 83.9,618.09 87.9,618.10 91.9,618.10 95.9,618.10 99.9,618.10 103.9,618.10 107.9,618.10 111.9,618.10 115.9,618.10 119.9,618.10 123.9,618.10 127.9,618.10 131.9,618.10 135.9,618.10 139.9,618.10 142.4,618.10" fill="none" stroke="#b8204a" stroke-width="1.2"/>
<polygon points="27.4,639.3 27.4,639.30 27.9,639.30 28.4,639.30 28.9,639.30 29.4,639.30 29.9,639.30 30.4,639.30 30.9,639.30 31.4,639.30 31.9,639.30 32.4,639.30 32.9,639.30 33.4,639.30 33.9,639.30 34.4,639.30 34.9,639.30 35.4,639.30 35.9,639.30 36.4,639.30 36.9,639.30 37.4,639.30 37.9,639.30 38.4,639.30 38.9,639.29 39.4,639.28 39.9,639.26 40.4,639.23 40.9,639.17 41.4,639.07 41.9,638.92 42.4,638.67 42.9,638.30 43.4,637.75 43.9,636.99 44.4,635.95 44.9,634.58 45.4,632.85 45.9,630.73 46.4,628.22 46.9,625.35 47.4,622.18 47.9,618.82 48.4,615.36 48.9,611.96 49.4,608.76 49.9,605.87 50.4,603.41 50.9,601.46 51.4,600.05 51.9,599.17 52.4,598.77 52.9,598.74 53.4,599.40 53.9,600.52 54.4,601.95 54.9,603.61 55.4,605.44 55.9,607.37 56.4,609.38 56.9,611.42 57.4,613.46 57.9,615.48 58.4,617.44 58.9,619.34 59.4,621.15 59.9,622.88 60.4,624.50 60.9,626.02 61.4,627.43 61.9,628.74 62.4,629.93 62.9,631.03 63.4,632.02 63.9,632.92 64.4,633.72 64.9,634.45 65.4,635.09 65.9,635.66 66.4,636.16 66.9,636.61 67.4,636.99 67.9,637.33 68.4,637.63 68.9,637.88 69.4,638.10 69.9,638.29 70.4,638.45 70.9,638.59 71.4,638.71 71.9,638.81 72.4,638.89 72.9,638.96 73.4,639.02 73.9,639.07 74.4,639.11 74.9,639.14 75.4,639.17 75.9,639.20 76.4,639.22 76.9,639.23 77.4,639.25 77.9,639.26 78.4,639.26 78.9,639.27 79.4,639.28 79.9,639.28 80.4,639.29 80.9,639.29 81.4,639.29 81.9,639.29 82.4,639.29 82.9,639.30 86.9,639.30 90.9,639.30 94.9,639.30 98.9,639.30 102.9,639.30 106.9,639.30 110.9,639.30 114.9,639.30 118.9,639.30 122.9,639.30 126.9,639.30 130.9,639.30 134.9,639.30 138.9,639.30 142.4,639.30 142.4,639.3" fill="#b8204a" fill-opacity="0.15" stroke="none"/>
<polyline points="27.4,639.30 27.9,639.30 28.4,639.30 28.9,639.30 29.4,639.30 29.9,639.30 30.4,639.30 30.9,639.30 31.4,639.30 31.9,639.30 32.4,639.30 32.9,639.30 33.4,639.30 33.9,639.30 34.4,639.30 34.9,639.30 35.4,639.30 35.9,639.30 36.4,639.30 36.9,639.30 37.4,639.30 37.9,639.30 38.4,639.30 38.9,639.29 39.4,639.28 39.9,639.26 40.4,639.23 40.9,639.17 41.4,639.07 41.9,638.92 42.4,638.67 42.9,638.30 43.4,637.75 43.9,636.99 44.4,635.95 44.9,634.58 45.4,632.85 45.9,630.73 46.4,628.22 46.9,625.35 47.4,622.18 47.9,618.82 48.4,615.36 48.9,611.96 49.4,608.76 49.9,605.87 50.4,603.41 50.9,601.46 51.4,600.05 51.9,599.17 52.4,598.77 52.9,598.74 53.4,599.40 53.9,600.52 54.4,601.95 54.9,603.61 55.4,605.44 55.9,607.37 56.4,609.38 56.9,611.42 57.4,613.46 57.9,615.48 58.4,617.44 58.9,619.34 59.4,621.15 59.9,622.88 60.4,624.50 60.9,626.02 61.4,627.43 61.9,628.74 62.4,629.93 62.9,631.03 63.4,632.02 63.9,632.92 64.4,633.72 64.9,634.45 65.4,635.09 65.9,635.66 66.4,636.16 66.9,636.61 67.4,636.99 67.9,637.33 68.4,637.63 68.9,637.88 69.4,638.10 69.9,638.29 70.4,638.45 70.9,638.59 71.4,638.71 71.9,638.81 72.4,638.89 72.9,638.96 73.4,639.02 73.9,639.07 74.4,639.11 74.9,639.14 75.4,639.17 75.9,639.20 76.4,639.22 76.9,639.23 77.4,639.25 77.9,639.26 78.4,639.26 78.9,639.27 79.4,639.28 79.9,639.28 80.4,639.29 80.9,639.29 81.4,639.29 81.9,639.29 82.4,639.29 82.9,639.30 86.9,639.30 90.9,639.30 94.9,639.30 98.9,639.30 102.9,639.30 106.9,639.30 110.9,639.30 114.9,639.30 118.9,639.30 122.9,639.30 126.9,639.30 130.9,639.30 134.9,639.30 138.9,639.30 142.4,639.30" fill="none" stroke="#b8204a" stroke-width="1.2"/>
<polygon points="27.4,660.5 27.4,660.50 31.4,660.50 31.9,660.50 32.4,660.50 32.9,660.50 33.4,660.50 33.9,660.50 34.4,660.50 34.9,660.50 35.4,660.50 35.9,660.50 36.4,660.50 36.9,660.50 37.4,660.50 37.9,660.50 38.4,660.50 38.9,660.50 39.4,660.50 39.9,660.50 40.4,660.50 40.9,660.50 41.4,660.50 41.9,660.50 42.4,660.50 42.9,660.50 43.4,660.50 43.9,660.50 44.4,660.50 44.9,660.50 45.4,660.50 45.9,660.49 46.4,660.48 46.9,660.47 47.4,660.44 47.9,660.39 48.4,660.31 48.9,660.18 49.4,659.97 49.9,659.66 50.4,659.21 50.9,658.57 51.4,657.69 51.9,656.53 52.4,655.05 52.9,653.21 53.4,651.01 53.9,648.46 54.4,645.61 54.9,642.51 55.4,639.28 55.9,636.01 56.4,632.85 56.9,629.91 57.4,627.31 57.9,625.13 58.4,623.43 58.9,622.24 59.4,621.53 59.9,621.23 60.4,621.30 60.9,621.96 61.4,622.98 61.9,624.26 62.4,625.73 62.9,627.34 63.4,629.06 63.9,630.84 64.4,632.66 64.9,634.49 65.4,636.30 65.9,638.09 66.4,639.83 66.9,641.51 67.4,643.13 67.9,644.66 68.4,646.12 68.9,647.48 69.4,648.76 69.9,649.95 70.4,651.05 70.9,652.06 71.4,652.99 71.9,653.84 72.4,654.61 72.9,655.31 73.4,655.94 73.9,656.50 74.4,657.00 74.9,657.45 75.4,657.85 75.9,658.21 76.4,658.52 76.9,658.79 77.4,659.03 77.9,659.24 78.4,659.43 78.9,659.58 79.4,659.72 79.9,659.84 80.4,659.94 80.9,660.03 81.4,660.10 81.9,660.17 82.4,660.22 82.9,660.27 83.4,660.31 83.9,660.34 84.4,660.37 84.9,660.39 85.4,660.41 85.9,660.42 86.4,660.44 86.9,660.45 87.4,660.46 87.9,660.47 88.4,660.47 88.9,660.48 89.4,660.48 89.9,660.49 90.4,660.49 94.4,660.50 98.4,660.50 102.4,660.50 106.4,660.50 110.4,660.50 114.4,660.50 118.4,660.50 122.4,660.50 126.4,660.50 130.4,660.50 134.4,660.50 138.4,660.50 142.4,660.50 142.4,660.50 142.4,660.5" fill="#6cb04c" fill-opacity="0.66" stroke="none"/>
<polyline points="27.4,660.50 31.4,660.50 31.9,660.50 32.4,660.50 32.9,660.50 33.4,660.50 33.9,660.50 34.4,660.50 34.9,660.50 35.4,660.50 35.9,660.50 36.4,660.50 36.9,660.50 37.4,660.50 37.9,660.50 38.4,660.50 38.9,660.50 39.4,660.50 39.9,660.50 40.4,660.50 40.9,660.50 41.4,660.50 41.9,660.50 42.4,660.50 42.9,660.50 43.4,660.50 43.9,660.50 44.4,660.50 44.9,660.50 45.4,660.50 45.9,660.49 46.4,660.48 46.9,660.47 47.4,660.44 47.9,660.39 48.4,660.31 48.9,660.18 49.4,659.97 49.9,659.66 50.4,659.21 50.9,658.57 51.4,657.69 51.9,656.53 52.4,655.05 52.9,653.21 53.4,651.01 53.9,648.46 54.4,645.61 54.9,642.51 55.4,639.28 55.9,636.01 56.4,632.85 56.9,629.91 57.4,627.31 57.9,625.13 58.4,623.43 58.9,622.24 59.4,621.53 59.9,621.23 60.4,621.30 60.9,621.96 61.4,622.98 61.9,624.26 62.4,625.73 62.9,627.34 63.4,629.06 63.9,630.84 64.4,632.66 64.9,634.49 65.4,636.30 65.9,638.09 66.4,639.83 66.9,641.51 67.4,643.13 67.9,644.66 68.4,646.12 68.9,647.48 69.4,648.76 69.9,649.95 70.4,651.05 70.9,652.06 71.4,652.99 71.9,653.84 72.4,654.61 72.9,655.31 73.4,655.94 73.9,656.50 74.4,657.00 74.9,657.45 75.4,657.85 75.9,658.21 76.4,658.52 76.9,658.79 77.4,659.03 77.9,659.24 78.4,659.43 78.9,659.58 79.4,659.72 79.9,659.84 80.4,659.94 80.9,660.03 81.4,660.10 81.9,660.17 82.4,660.22 82.9,660.27 83.4,660.31 83.9,660.34 84.4,660.37 84.9,660.39 85.4,660.41 85.9,660.42 86.4,660.44 86.9,660.45 87.4,660.46 87.9,660.47 88.4,660.47 88.9,660.48 89.4,660.48 89.9,660.49 90.4,660.49 94.4,660.50 98.4,660.50 102.4,660.50 106.4,660.50 110.4,660.50 114.4,660.50 118.4,660.50 122.4,660.50 126.4,660.50 130.4,660.50 134.4,660.50 138.4,660.50 142.4,660.50 142.4,660.50" fill="none" stroke="#6cb04c" stroke-width="1.2"/>
<polygon points="27.4,681.8 27.4,681.80 31.4,681.80 31.9,681.80 32.4,681.80 32.9,681.80 33.4,681.80 33.9,681.80 34.4,681.80 34.9,681.80 35.4,681.80 35.9,681.80 36.4,681.80 36.9,681.80 37.4,681.80 37.9,681.80 38.4,681.80 38.9,681.80 39.4,681.80 39.9,681.80 40.4,681.80 40.9,681.80 41.4,681.80 41.9,681.79 42.4,681.78 42.9,681.77 43.4,681.75 43.9,681.71 44.4,681.64 44.9,681.55 45.4,681.39 45.9,681.17 46.4,680.84 46.9,680.38 47.4,679.74 47.9,678.91 48.4,677.82 48.9,676.46 49.4,674.80 49.9,672.82 50.4,670.53 50.9,667.96 51.4,665.15 51.9,662.16 52.4,659.09 52.9,656.01 53.4,653.05 53.9,650.28 54.4,647.81 54.9,645.69 55.4,643.99 55.9,642.72 56.4,641.89 56.9,641.44 57.4,641.30 57.9,641.51 58.4,642.07 58.9,642.85 59.4,643.79 59.9,644.87 60.4,646.06 60.9,647.33 61.4,648.66 61.9,650.05 62.4,651.47 62.9,652.91 63.4,654.36 63.9,655.80 64.4,657.24 64.9,658.65 65.4,660.03 65.9,661.38 66.4,662.69 66.9,663.96 67.4,665.18 67.9,666.35 68.4,667.47 68.9,668.54 69.4,669.55 69.9,670.51 70.4,671.41 70.9,672.26 71.4,673.06 71.9,673.81 72.4,674.50 72.9,675.15 73.4,675.75 73.9,676.31 74.4,676.82 74.9,677.30 75.4,677.73 75.9,678.13 76.4,678.50 76.9,678.83 77.4,679.14 77.9,679.42 78.4,679.67 78.9,679.90 79.4,680.10 79.9,680.29 80.4,680.46 80.9,680.61 81.4,680.75 81.9,680.87 82.4,680.98 82.9,681.08 83.4,681.16 83.9,681.24 84.4,681.31 84.9,681.37 85.4,681.42 85.9,681.47 86.4,681.51 86.9,681.55 87.4,681.58 87.9,681.61 91.9,681.74 95.9,681.78 99.9,681.80 103.9,681.80 107.9,681.80 111.9,681.80 115.9,681.80 119.9,681.80 123.9,681.80 127.9,681.80 131.9,681.80 135.9,681.80 139.9,681.80 142.4,681.80 142.4,681.8" fill="#6cb04c" fill-opacity="0.4" stroke="none"/>
<polyline points="27.4,681.80 31.4,681.80 31.9,681.80 32.4,681.80 32.9,681.80 33.4,681.80 33.9,681.80 34.4,681.80 34.9,681.80 35.4,681.80 35.9,681.80 36.4,681.80 36.9,681.80 37.4,681.80 37.9,681.80 38.4,681.80 38.9,681.80 39.4,681.80 39.9,681.80 40.4,681.80 40.9,681.80 41.4,681.80 41.9,681.79 42.4,681.78 42.9,681.77 43.4,681.75 43.9,681.71 44.4,681.64 44.9,681.55 45.4,681.39 45.9,681.17 46.4,680.84 46.9,680.38 47.4,679.74 47.9,678.91 48.4,677.82 48.9,676.46 49.4,674.80 49.9,672.82 50.4,670.53 50.9,667.96 51.4,665.15 51.9,662.16 52.4,659.09 52.9,656.01 53.4,653.05 53.9,650.28 54.4,647.81 54.9,645.69 55.4,643.99 55.9,642.72 56.4,641.89 56.9,641.44 57.4,641.30 57.9,641.51 58.4,642.07 58.9,642.85 59.4,643.79 59.9,644.87 60.4,646.06 60.9,647.33 61.4,648.66 61.9,650.05 62.4,651.47 62.9,652.91 63.4,654.36 63.9,655.80 64.4,657.24 64.9,658.65 65.4,660.03 65.9,661.38 66.4,662.69 66.9,663.96 67.4,665.18 67.9,666.35 68.4,667.47 68.9,668.54 69.4,669.55 69.9,670.51 70.4,671.41 70.9,672.26 71.4,673.06 71.9,673.81 72.4,674.50 72.9,675.15 73.4,675.75 73.9,676.31 74.4,676.82 74.9,677.30 75.4,677.73 75.9,678.13 76.4,678.50 76.9,678.83 77.4,679.14 77.9,679.42 78.4,679.67 78.9,679.90 79.4,680.10 79.9,680.29 80.4,680.46 80.9,680.61 81.4,680.75 81.9,680.87 82.4,680.98 82.9,681.08 83.4,681.16 83.9,681.24 84.4,681.31 84.9,681.37 85.4,681.42 85.9,681.47 86.4,681.51 86.9,681.55 87.4,681.58 87.9,681.61 91.9,681.74 95.9,681.78 99.9,681.80 103.9,681.80 107.9,681.80 111.9,681.80 115.9,681.80 119.9,681.80 123.9,681.80 127.9,681.80 131.9,681.80 135.9,681.80 139.9,681.80 142.4,681.80" fill="none" stroke="#6cb04c" stroke-width="1.2"/>
<polygon points="27.4,703.0 27.4,703.00 27.9,703.00 28.4,703.00 28.9,703.00 29.4,703.00 29.9,703.00 30.4,703.00 30.9,703.00 31.4,703.00 31.9,703.00 32.4,703.00 32.9,703.00 33.4,703.00 33.9,703.00 34.4,703.00 34.9,703.00 35.4,703.00 35.9,703.00 36.4,703.00 36.9,703.00 37.4,703.00 37.9,703.00 38.4,703.00 38.9,703.00 39.4,703.00 39.9,703.00 40.4,702.99 40.9,702.99 41.4,702.98 41.9,702.96 42.4,702.93 42.9,702.88 43.4,702.81 43.9,702.69 44.4,702.51 44.9,702.24 45.4,701.86 45.9,701.33 46.4,700.61 46.9,699.66 47.4,698.46 47.9,696.96 48.4,695.15 48.9,693.02 49.4,690.58 49.9,687.88 50.4,684.95 50.9,681.88 51.4,678.76 51.9,675.67 52.4,672.74 52.9,670.05 53.4,667.68 53.9,665.71 54.4,664.16 54.9,663.05 55.4,662.37 55.9,662.05 56.4,662.02 56.9,662.42 57.4,663.10 57.9,663.98 58.4,665.01 58.9,666.17 59.4,667.44 59.9,668.78 60.4,670.18 60.9,671.62 61.4,673.10 61.9,674.58 62.4,676.07 62.9,677.55 63.4,679.01 63.9,680.44 64.4,681.84 64.9,683.20 65.4,684.52 65.9,685.79 66.4,687.01 66.9,688.18 67.4,689.29 67.9,690.34 68.4,691.34 68.9,692.28 69.4,693.16 69.9,693.99 70.4,694.77 70.9,695.49 71.4,696.17 71.9,696.79 72.4,697.37 72.9,697.90 73.4,698.40 73.9,698.85 74.4,699.26 74.9,699.64 75.4,699.98 75.9,700.30 76.4,700.58 76.9,700.84 77.4,701.08 77.9,701.29 78.4,701.48 78.9,701.65 79.4,701.81 79.9,701.95 80.4,702.07 80.9,702.18 81.4,702.28 81.9,702.37 82.4,702.44 82.9,702.51 83.4,702.57 83.9,702.63 84.4,702.68 84.9,702.72 85.4,702.75 85.9,702.79 86.4,702.82 90.4,702.94 94.4,702.98 98.4,703.00 102.4,703.00 106.4,703.00 110.4,703.00 114.4,703.00 118.4,703.00 122.4,703.00 126.4,703.00 130.4,703.00 134.4,703.00 138.4,703.00 142.4,703.00 142.4,703.00 142.4,703.0" fill="#6cb04c" fill-opacity="0.15" stroke="none"/>
<polyline points="27.4,703.00 27.9,703.00 28.4,703.00 28.9,703.00 29.4,703.00 29.9,703.00 30.4,703.00 30.9,703.00 31.4,703.00 31.9,703.00 32.4,703.00 32.9,703.00 33.4,703.00 33.9,703.00 34.4,703.00 34.9,703.00 35.4,703.00 35.9,703.00 36.4,703.00 36.9,703.00 37.4,703.00 37.9,703.00 38.4,703.00 38.9,703.00 39.4,703.00 39.9,703.00 40.4,702.99 40.9,702.99 41.4,702.98 41.9,702.96 42.4,702.93 42.9,702.88 43.4,702.81 43.9,702.69 44.4,702.51 44.9,702.24 45.4,701.86 45.9,701.33 46.4,700.61 46.9,699.66 47.4,698.46 47.9,696.96 48.4,695.15 48.9,693.02 49.4,690.58 49.9,687.88 50.4,684.95 50.9,681.88 51.4,678.76 51.9,675.67 52.4,672.74 52.9,670.05 53.4,667.68 53.9,665.71 54.4,664.16 54.9,663.05 55.4,662.37 55.9,662.05 56.4,662.02 56.9,662.42 57.4,663.10 57.9,663.98 58.4,665.01 58.9,666.17 59.4,667.44 59.9,668.78 60.4,670.18 60.9,671.62 61.4,673.10 61.9,674.58 62.4,676.07 62.9,677.55 63.4,679.01 63.9,680.44 64.4,681.84 64.9,683.20 65.4,684.52 65.9,685.79 66.4,687.01 66.9,688.18 67.4,689.29 67.9,690.34 68.4,691.34 68.9,692.28 69.4,693.16 69.9,693.99 70.4,694.77 70.9,695.49 71.4,696.17 71.9,696.79 72.4,697.37 72.9,697.90 73.4,698.40 73.9,698.85 74.4,699.26 74.9,699.64 75.4,699.98 75.9,700.30 76.4,700.58 76.9,700.84 77.4,701.08 77.9,701.29 78.4,701.48 78.9,701.65 79.4,701.81 79.9,701.95 80.4,702.07 80.9,702.18 81.4,702.28 81.9,702.37 82.4,702.44 82.9,702.51 83.4,702.57 83.9,702.63 84.4,702.68 84.9,702.72 85.4,702.75 85.9,702.79 86.4,702.82 90.4,702.94 94.4,702.98 98.4,703.00 102.4,703.00 106.4,703.00 110.4,703.00 114.4,703.00 118.4,703.00 122.4,703.00 126.4,703.00 130.4,703.00 134.4,703.00 138.4,703.00 142.4,703.00 142.4,703.00" fill="none" stroke="#6cb04c" stroke-width="1.2"/>
<polyline points="27.4,724.30 27.9,724.30 28.4,724.30 28.9,724.30 29.4,724.30 29.9,724.30 30.4,724.30 30.9,724.30 31.4,724.30 31.9,724.30 32.4,724.30 32.9,724.30 33.4,724.30 33.9,724.30 34.4,724.30 34.9,724.30 35.4,724.30 35.9,724.30 36.4,724.30 36.9,724.29 37.4,724.27 37.9,724.24 38.4,724.17 38.9,724.02 39.4,723.76 39.9,723.30 40.4,722.55 40.9,721.41 41.4,719.74 41.9,717.46 42.4,714.52 42.9,710.95 43.4,706.85 43.9,702.43 44.4,697.96 44.9,693.76 45.4,690.10 45.9,687.21 46.4,685.22 46.9,684.14 47.4,683.80 47.9,685.10 48.4,688.37 48.9,692.52 49.4,697.03 49.9,701.50 50.4,705.70 50.9,709.45 51.4,712.69 51.9,715.40 52.4,717.61 52.9,719.36 53.4,720.71 53.9,721.74 54.4,722.50 54.9,723.06 55.4,723.45 55.9,723.73 56.4,723.92 56.9,724.05 57.4,724.14 57.9,724.20 58.4,724.24 58.9,724.26 59.4,724.28 59.9,724.29 60.4,724.29 60.9,724.30 61.4,724.30 61.9,724.30 62.4,724.30 62.9,724.30 63.4,724.30 63.9,724.30 64.4,724.30 64.9,724.30 65.4,724.30 65.9,724.30 66.4,724.30 66.9,724.30 67.4,724.30 67.9,724.30 68.4,724.30 68.9,724.30 69.4,724.30 69.9,724.30 70.4,724.30 70.9,724.30 71.4,724.30 71.9,724.30 72.4,724.30 72.9,724.30 73.4,724.30 73.9,724.30 74.4,724.30 74.9,724.30 75.4,724.30 75.9,724.30 76.4,724.30 76.9,724.30 77.4,724.30 77.9,724.30 81.9,724.30 85.9,724.30 89.9,724.30 93.9,724.30 97.9,724.30 101.9,724.30 105.9,724.30 109.9,724.30 113.9,724.30 117.9,724.30 121.9,724.30 125.9,724.30 129.9,724.30 133.9,724.30 137.9,724.30 141.9,724.30 142.4,724.30" fill="none" stroke="#6e3f98" stroke-width="1.2"/>
<rect x="26.9" y="554.4" width="116" height="170.1" fill="none" stroke="#111" stroke-width="1.2"/>
<path d="M58.90 724.5 v3.4 M69.86 724.5 v2.2 M76.27 724.5 v2.2 M80.81 724.5 v2.2 M84.34 724.5 v2.2 M87.22 724.5 v2.2 M89.66 724.5 v2.2 M91.77 724.5 v2.2 M93.63 724.5 v2.2 M95.30 724.5 v3.4 M106.26 724.5 v2.2 M112.67 724.5 v2.2 M117.21 724.5 v2.2 M120.74 724.5 v2.2 M123.62 724.5 v2.2 M126.06 724.5 v2.2 M128.17 724.5 v2.2 M130.03 724.5 v2.2 M131.70 724.5 v3.4 M34.70 724.5 v2.2 M37.10 724.5 v2.2 M39.50 724.5 v2.2 M42.00 724.5 v2.2 M44.40 724.5 v2.2 M46.20 724.5 v2.2 M47.20 724.5 v2.2 M49.00 724.5 v2.2 M52.60 724.5 v2.2 M55.00 724.5 v2.2" stroke="#111" stroke-width="0.85" fill="none"/>
<text x="85" y="740.6" font-size="10.7" fill="#222" stroke="#222" stroke-width="0.45" text-anchor="middle" textLength="27.5" lengthAdjust="spacingAndGlyphs">TLR4 PE</text>
<rect x="174.9" y="555.0" width="9.8" height="9.8" fill="#d78c9c" stroke="#b8204a" stroke-width="1.2"/>
<rect x="174.9" y="570.9" width="9.8" height="9.8" fill="#afd596" stroke="#6cb04c" stroke-width="1.2"/>
<rect x="174.9" y="586.7" width="9.8" height="9.8" fill="#fff" stroke="#6e3f98" stroke-width="1.2"/>
<text x="188.5" y="562.6" font-size="7.9" fill="#222" text-anchor="start" font-weight="normal" >Control</text>
<text x="188.5" y="578.5" font-size="7.9" fill="#222" text-anchor="start" font-weight="normal" >Runx1 KO</text>
<text x="188.5" y="594.3" font-size="7.9" fill="#222" text-anchor="start" font-weight="normal" >Isotype control</text>
<line x1="190.8" y1="652.5" x2="190.8" y2="723.7" stroke="#111" stroke-width="1.3"/>
<line x1="190.2" y1="723.1" x2="261.3" y2="723.1" stroke="#111" stroke-width="1.3"/>
<line x1="187" y1="723.10" x2="190.8" y2="723.10" stroke="#111" stroke-width="1"/>
<text x="184.2" y="726.2" font-size="8.8" fill="#222" text-anchor="end" font-weight="normal" >0</text>
<line x1="187" y1="700.40" x2="190.8" y2="700.40" stroke="#111" stroke-width="1"/>
<text x="184.2" y="703.5" font-size="8.8" fill="#222" text-anchor="end" font-weight="normal" >50</text>
<line x1="187" y1="677.70" x2="190.8" y2="677.70" stroke="#111" stroke-width="1"/>
<text x="184.2" y="680.8" font-size="8.8" fill="#222" text-anchor="end" font-weight="normal" >100</text>
<line x1="187" y1="655.00" x2="190.8" y2="655.00" stroke="#111" stroke-width="1"/>
<text x="184.2" y="658.1" font-size="8.8" fill="#222" text-anchor="end" font-weight="normal" >150</text>
<line x1="208.3" y1="723.1" x2="208.3" y2="727" stroke="#111" stroke-width="1"/>
<line x1="243.8" y1="723.1" x2="243.8" y2="727" stroke="#111" stroke-width="1"/>
<text x="0" y="0" font-size="10.6" fill="#222" stroke="#222" stroke-width="0.45" text-anchor="middle" textLength="31.2" lengthAdjust="spacingAndGlyphs" transform="translate(162.4 687.6) rotate(-90)">TLR4 MFI</text>
<rect x="197.3" y="694.73" width="22.4" height="28.38" fill="#d4897a" stroke="#c87868" stroke-width="0.6"/>
<rect x="232.3" y="669.85" width="23.5" height="53.25" fill="#b6d59c" stroke="#a8cc8c" stroke-width="0.6"/>
<line x1="208.5" y1="694.73" x2="208.5" y2="691" stroke="#c85a70" stroke-width="1"/>
<line x1="202" y1="691" x2="215" y2="691" stroke="#c85a70" stroke-width="1.4"/>
<line x1="243.8" y1="669.85" x2="243.8" y2="664.1" stroke="#7cc060" stroke-width="1"/>
<line x1="237.3" y1="664.1" x2="250.3" y2="664.1" stroke="#7cc060" stroke-width="1.4"/>
<circle cx="208.5" cy="691.4" r="1.6" fill="#000"/>
<circle cx="210.3" cy="694.8" r="1.6" fill="#000"/>
<circle cx="206.3" cy="698.6" r="1.6" fill="#000"/>
<path d="M241.5 663.7 L243.3 666.9 L239.7 666.9Z" fill="#000"/>
<path d="M246.5 666.6 L248.3 669.8 L244.7 669.8Z" fill="#000"/>
<path d="M243.8 674.1 L245.60000000000002 677.3 L242.0 677.3Z" fill="#000"/>
<text x="226.3" y="662.2" font-size="8.6" fill="#222" text-anchor="middle" font-weight="normal" >**</text>
</svg>
</body></html>
